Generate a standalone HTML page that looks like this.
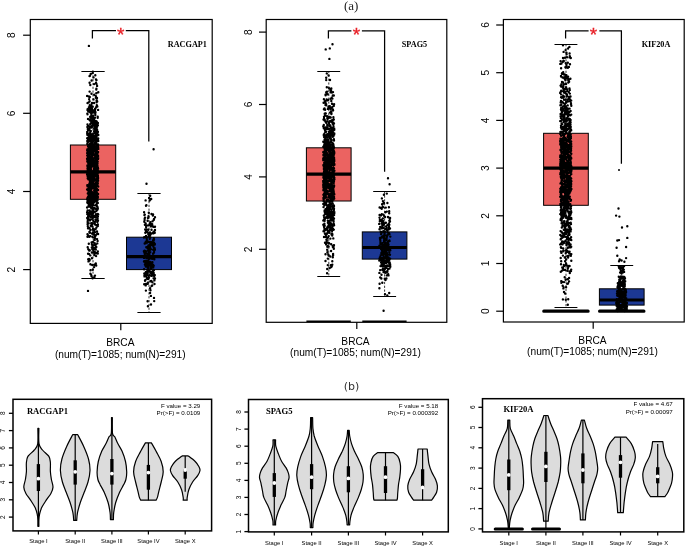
<!DOCTYPE html>
<html><head><meta charset="utf-8"><title>Figure</title>
<style>html,body{margin:0;padding:0;background:#fff}svg{display:block;will-change:transform}</style></head>
<body><svg width="685" height="547" viewBox="0 0 685 547">
<rect width="685" height="547" fill="#fff"/>
<path d="M93 71.5V145M93 199.3V278.2" stroke="#000" stroke-width="0.8" stroke-dasharray="2.2 1.6" fill="none"/>
<path d="M81.4 71.5H104.7M81.4 278.5H104.7" stroke="#000" stroke-width="1" fill="none"/>
<rect x="70.4" y="145" width="45.3" height="54.3" fill="#eb6361" stroke="#000" stroke-width="1"/>
<path d="M70.4 171.9H115.7" stroke="#000" stroke-width="3.2" fill="none"/>
<path d="M149 193.4V237.2M149 269.6V312.6" stroke="#000" stroke-width="0.8" stroke-dasharray="2.2 1.6" fill="none"/>
<path d="M137.4 193.5H160.6M137.4 312.5H160.6" stroke="#000" stroke-width="1" fill="none"/>
<rect x="126.5" y="237.2" width="45" height="32.4" fill="#1c3894" stroke="#000" stroke-width="1"/>
<path d="M126.5 256.7H171.5" stroke="#000" stroke-width="3.2" fill="none"/>
<path d="M88.9 45.9h0M88 290.9h0" stroke="#000" stroke-width="2.4" stroke-linecap="round" fill="none"/>
<path d="M97.6 182.5h0M95.3 150.8h0M89.9 181.3h0M97.2 185h0M87.6 210.5h0M93.1 180.8h0M91.6 125.9h0M89.8 154.4h0M87.8 129h0M95.8 161.6h0M87.2 155.6h0M93.3 164.3h0M97.6 240.9h0M88.7 136.5h0M89.3 151h0M93.9 151.3h0M92.8 242h0M94.3 244.2h0M96.2 208.8h0M89.1 191.3h0M90.6 159.3h0M90.5 173.8h0M87.6 150.4h0M97.1 198.5h0M95.9 159.2h0M95.1 155.6h0M87.2 199.3h0M96.6 100.8h0M95.4 148.9h0M92.3 122.4h0M95.4 197.6h0M92.2 202.6h0M89.6 186.2h0M88.3 176.4h0M89.7 145.8h0M87.5 161.7h0M90.9 190.5h0M95.5 211.6h0M94.9 193.5h0M96.6 121.4h0M95.1 205.4h0M90.1 161.8h0M93.3 154.3h0M92 233.6h0M95.9 169.9h0M93 117.8h0M90.3 255.4h0M94.3 185.3h0M97.9 176.3h0M89.5 205.8h0M97 151.3h0M87.3 174.5h0M90 232.6h0M89.7 137.7h0M95.4 144.2h0M97.7 132.8h0M95.5 112.3h0M90.8 156.9h0M97 167h0M90.8 225.7h0M89.8 146.5h0M97.3 197.3h0M94.2 190.7h0M94.9 224.3h0M94.6 212h0M98.1 193.9h0M92.4 118.6h0M96.1 256.1h0M94.9 232.3h0M96.7 162h0M92 112.2h0M95.2 148h0M93.5 250.6h0M91.5 276.2h0M89.5 157.1h0M94.1 202.4h0M88 218.3h0M97.3 131.5h0M88.7 126.3h0M87.4 165.4h0M88.3 161.8h0M97.5 154h0M91 105.9h0M88.7 146.3h0M87.4 150.5h0M87.6 149.3h0M94.9 236.9h0M94.2 118.9h0M94.9 132.4h0M95.4 150h0M88.1 253.7h0M93.7 198.2h0M91.2 137.1h0M96.3 247h0M96.3 179.6h0M97.1 129.7h0M87.8 226.2h0M96.8 105.3h0M97.3 149.1h0M97.7 178.2h0M88.3 158.5h0M89.4 145h0M88.4 167h0M87.5 124.5h0M96.6 199.3h0M96.2 189.1h0M94.2 128.8h0M96.3 170.8h0M94.2 208.4h0M90.3 132.7h0M88.2 111.3h0M88.2 190.4h0M95.6 229.1h0M89.4 177.5h0M90.7 178.1h0M91.8 184.3h0M87.3 113.8h0M90 214.5h0M90.3 119.7h0M95.1 224.5h0M91.2 204.5h0M90.7 145.8h0M97.9 125.2h0M92.7 136.4h0M96.6 157.6h0M94 166h0M87.4 165.6h0M91.7 148.1h0M92 179.2h0M95.8 160.5h0M91 148.2h0M95 171.9h0M93.1 140.3h0M89.5 148.5h0M96.4 88.7h0M88.1 158.5h0M96.3 189.7h0M89 187.4h0M87.1 172.5h0M89.4 133.7h0M95.6 185.9h0M98.1 156h0M87.1 95.9h0M92.6 278.2h0M92.6 218.5h0M96 161.8h0M89.2 155.4h0M92.6 162.1h0M91 189.8h0M96.4 144.8h0M90 160.3h0M97.7 193.6h0M90.3 157.2h0M89.5 194.9h0M94.9 176.1h0M92.7 181.3h0M88.3 174.5h0M94.2 192.1h0M88 130.2h0M95.9 220.3h0M94.9 174.7h0M95.9 132.5h0M94.1 136.5h0M91.1 110.2h0M91.6 242.4h0M91.5 186.6h0M97.1 186.1h0M88.1 146.1h0M97.1 126.7h0M87.4 126.9h0M89.4 231.9h0M90 143.7h0M97.2 233.7h0M92.7 164.7h0M91.3 122.5h0M97 178.1h0M89.7 164h0M92.3 138.9h0M93.1 166.1h0M95.6 175.6h0M95.5 108.4h0M94.3 128.5h0M91 184.1h0M90.8 219.4h0M88.8 134.1h0M96.5 182.9h0M94.5 166.5h0M95.4 142.7h0M89 162.7h0M92 145.5h0M95.8 235.2h0M93.6 234.5h0M88.5 146.5h0M92.3 211.8h0M97 214.5h0M89.8 232.8h0M89.2 119.5h0M90.5 141h0M95 110.9h0M96.5 210.8h0M88.8 171.9h0M88.8 219.2h0M89.9 140.2h0M90.8 106.1h0M92.9 208.8h0M88.9 107.3h0M90.8 131h0M89.2 179.3h0M97.8 253.6h0M95.3 113.7h0M88.2 175.9h0M97.9 196.9h0M88.2 155.4h0M91.4 155h0M98.1 109.9h0M96 214.2h0M95.3 124.9h0M92 110.3h0M89.3 111.8h0M94.2 179.4h0M88.3 202.8h0M89.4 129.8h0M91.4 167.2h0M87.5 166.8h0M91.6 113h0M96 182.9h0M94.1 267.1h0M92.7 188h0M94.2 248.7h0M92.3 138h0M88.7 158.8h0M93.9 197.3h0M91.6 172.3h0M95.4 137.5h0M97.3 168.7h0M91.9 117h0M93.5 174.5h0M95.5 128.9h0M91.8 110.2h0M89.7 105.3h0M95.2 199.8h0M97 135.5h0M95.8 249.6h0M94.9 216.8h0M96.5 253.2h0M94.7 127.7h0M94.3 223h0M92.2 172.5h0M90.6 179.9h0M94.1 173.1h0M88.2 196.4h0M91.8 162.3h0M95.9 97.8h0M95.1 170.1h0M94.2 150h0M89.9 130.5h0M91.8 180.1h0M92.2 224.1h0M94.1 194.9h0M91.7 127.5h0M94.7 240.1h0M97.5 196.7h0M89.2 130.2h0M94.4 139.1h0M95.8 171.6h0M91.5 138.6h0M92.6 165.1h0M98 220.8h0M87.5 236.7h0M93.2 198.4h0M88.9 133.7h0M95.9 195.4h0M97.6 209.3h0M92.9 203.9h0M88.2 235.4h0M93.5 176.8h0M93.2 220.8h0M95.1 156.9h0M92.8 269.7h0M94.3 158.4h0M96.4 198.5h0M92.9 252.4h0M91.7 141.9h0M97.7 183.4h0M90.4 264.3h0M94.8 208.2h0M91.5 159.9h0M95.6 190.9h0M88.5 139.6h0M98.1 141h0M91.1 144.4h0M87.7 158.4h0M90.2 116.7h0M91.6 144.6h0M87.2 153.3h0M91.9 258.3h0M91.8 134.8h0M94.9 117.7h0M91 184.2h0M90.1 191.4h0M89.6 91.6h0M95.4 244.8h0M97.6 152.5h0M92.9 71.6h0M89.6 210.4h0M96.1 143.4h0M91.5 93.8h0M89.5 176.9h0M88.5 148.7h0M95.8 134.6h0M96.2 209.5h0M94.2 175.6h0M92.4 159.8h0M93.4 137.8h0M89.6 173.4h0M97.9 180h0M91.1 214h0M94.3 186.8h0M96.3 135h0M96.2 167.7h0M92.3 207.3h0M90.4 206.8h0M93.2 124.7h0M88.5 145.5h0M96.4 146.2h0M91.1 152h0M96.6 102.2h0M90.1 154.2h0M91.3 174.7h0M89.9 150.3h0M91.9 252.5h0M89.2 129.2h0M87.1 158.5h0M95.2 201h0M90.2 117h0M89.8 97h0M90.5 230h0M92.5 199.5h0M91.9 159.9h0M94.2 164.3h0M94.5 188.4h0M91.2 212.3h0M96.6 84.1h0M96.7 129h0M87.7 221.4h0M96.4 227.6h0M97.2 101.4h0M95.9 131h0M88.7 96.5h0M96.4 138.4h0M94.2 208.1h0M87.3 161.1h0M88.5 261.4h0M97.8 202.9h0M94.4 174.4h0M89.9 150.3h0M88.2 202.1h0M88.7 177.1h0M89.7 153h0M95.8 156.3h0M91 145.5h0M88.8 163.3h0M97.2 185.4h0M96 139.3h0M89 169.9h0M97.1 206.2h0M93.9 197.9h0M95.9 172h0M94.6 176.5h0M97.1 165.4h0M95.9 172h0M96.5 164.7h0M89.3 177.5h0M94.9 224.1h0M93 154.5h0M95.4 128.3h0M92 153.9h0M97 179.8h0M93.3 153.5h0M90.1 211.9h0M89.7 250.5h0M88.7 169.5h0M92.6 210.5h0M87.8 141.3h0M92.3 216.8h0M88.7 215h0M92.6 106.6h0M92.7 187.8h0M93.1 228.7h0M96.8 203.6h0M87.2 150.4h0M96.5 151.4h0M92.3 164.6h0M93.4 110.5h0M94.6 142.7h0M96.5 172.8h0M91.3 147.2h0M91.8 103.4h0M97.9 131.7h0M87.9 129.5h0M94.2 216.8h0M94.2 178.1h0M87.4 141.7h0M93.9 184.2h0M94.7 127.7h0M97.5 147.2h0M90.8 134.3h0M98.1 180.7h0M92.8 120.6h0M92.5 180.9h0M97.2 168.2h0M87.5 186.2h0M95.1 135.7h0M94.1 131.3h0M90.9 171.7h0M96.8 220.3h0M91.2 164.2h0M92.4 157.1h0M93 125.2h0M95.7 139.5h0M89.5 170.9h0M92 136.6h0M91.8 149.6h0M93.3 163.4h0M96.4 169.7h0M90.4 182h0M96.4 143.5h0M91.6 215.6h0M92.7 198h0M90.1 171.7h0M92.8 232.6h0M98 190h0M94.3 255.1h0M96 200.2h0M90.8 148.4h0M90.7 148.5h0M90.5 174.2h0M93.7 181.6h0M94.2 230.6h0M95.9 96.2h0M87.5 150.6h0M95.2 126.7h0M97 208.5h0M93.2 179.6h0M87.7 247.3h0M90.5 139.6h0M87.2 133.2h0M89.2 250.5h0M97.4 174.1h0M93.9 145.8h0M94.5 244.9h0M95.9 247.5h0M97.3 216.1h0M94 198h0M94 230h0M94.1 170.6h0M94.9 161.6h0M93.8 145.7h0M94.7 142.9h0M89.5 109.7h0M94.6 123.7h0M92.2 226.3h0M95.6 192.9h0M88.2 215.9h0M89.1 216.5h0M87.5 175.3h0M95.8 171.7h0M97.3 151.6h0M94.4 237.7h0M91.2 223.2h0M96.3 172.9h0M95.9 180.2h0M93.4 184.8h0M90 174.6h0M90.5 203.4h0M91.8 142.9h0M90.7 157.3h0M91.9 175.6h0M94.3 199.8h0M97.6 179.2h0M87.7 212.6h0M93.5 170.4h0M87.5 234.2h0M88.4 163.7h0M96.2 165.8h0M93.5 229h0M97.4 182.3h0M92.1 184.9h0M87.3 152.9h0M91.4 146.6h0M93.7 173.4h0M97.6 207.2h0M98.1 177.9h0M92.4 174.7h0M91.7 141.5h0M88.2 159.8h0M94.3 201.9h0M89.5 228h0M88.8 187.4h0M87.3 202.6h0M87.2 218h0M94.8 176.7h0M88.5 192.3h0M97.9 167.6h0M88.1 150.3h0M96.8 189h0M90 75.7h0M87.3 185.3h0M95.2 126.3h0M89.8 166.9h0M95.3 125.7h0M90.5 270.3h0M87.7 203.1h0M95.8 161.7h0M95.1 147h0M95.3 75.2h0M95.3 158.6h0M88 118.9h0M94.1 140.2h0M95 132.7h0M92.3 150.8h0M97.5 178.4h0M89.9 150.9h0M97.9 216.6h0M95.1 123h0M87.2 214.1h0M87.3 161.6h0M94.1 84.1h0M96.3 181.2h0M88 171.1h0M90.6 123.8h0M95.3 170.9h0M89 205.4h0M96.7 161.3h0M92.5 147.8h0M87.8 142.5h0M91.2 203.9h0M93.5 99.4h0M92 102.9h0M94.7 171.2h0M88.7 160.8h0M96 189.7h0M91.2 113.4h0M94.3 201.1h0M94.2 144h0M91.8 191.8h0M91.4 200.7h0M95.9 142.2h0M97.7 116.7h0M95.9 172.4h0M93.4 200h0M90.4 138.3h0M87.8 174h0M98 159.1h0M95 108.9h0M96.4 125.1h0M90.8 193.5h0M93.5 77.4h0M98 171.8h0M96.4 139.4h0M93.8 198.8h0M90.6 173.8h0M91.9 244.4h0M97 98h0M91.3 115.4h0M94.8 222.3h0M93.8 234.3h0M97.1 239.1h0M96.1 123.3h0M90.3 191h0M87.1 174.5h0M90 184.9h0M91.8 177h0M93.7 217h0M96.2 170.9h0M97 231.5h0M87.6 174.9h0M96.4 159.2h0M96.2 152.6h0M96.8 181.5h0M93.5 209.4h0M90.2 165.3h0M96.6 192h0M96.1 107.1h0M94.8 140.2h0M97.3 176.7h0M91 191.5h0M88.1 201h0M93.3 210.8h0M96 186.6h0M89.3 159.7h0M95.5 150.6h0M97.5 148.4h0M90.3 85h0M93.9 201.1h0M94.7 171.4h0M92.3 249.3h0M89.4 193.5h0M90 164.9h0M95.5 165.6h0M96 155.1h0M92.2 181.8h0M88.1 156.8h0M96.1 169.8h0M95.7 140h0M89.7 250.3h0M93.6 208.6h0M97.1 172h0M97 214.7h0M92.9 215.2h0M92.4 145.9h0M93.7 198.9h0M89.2 145.7h0M89.3 141.1h0M89.1 159.3h0M95 150.9h0M91.2 176.3h0M93.4 230.3h0M91.6 173.2h0M92.9 153.1h0M88.8 193.9h0M87.6 176.1h0M98.3 140.9h0M91.3 208.3h0M88.3 145.4h0M94.2 94.8h0M95.9 194.9h0M88.8 165.9h0M93.8 178.2h0M91 108.2h0M92.9 158.8h0M87.3 134.8h0M87.5 200.5h0M98.2 172.6h0M96.8 172.4h0M92.5 245.5h0M93.5 112.3h0M90 134.7h0M95.8 244.4h0M91.9 141.1h0M97.7 177.4h0M95.7 153.4h0M96.3 156.8h0M97.9 234h0M89.9 180.7h0M87.5 110.1h0M89.4 195.8h0M89.1 214.3h0M88 228.3h0M87.7 222.5h0M93.3 158.1h0M96.9 101.8h0M92.2 154.2h0M97.7 161.8h0M96 79.4h0M87.8 193.5h0M93.8 199.9h0M91.6 150.1h0M88.4 149.2h0M97.8 214h0M90 220.4h0M93.4 159.9h0M94.3 161.7h0M97.8 226.1h0M94.6 180.3h0M91.5 194.4h0M92.1 152.9h0M88.9 176.8h0M97.9 175.5h0M98.2 186.6h0M89.6 128.3h0M87.5 114.3h0M90 187.1h0M91 136.9h0M97.2 203.3h0M97.2 169h0M96.5 140.9h0M87.6 109.2h0M95.9 187.8h0M95 175h0M94.3 163.8h0M98.1 234h0M87.7 171.3h0M88.7 199.9h0M95.6 156.6h0M97.6 218.7h0M94.6 253.8h0M90.4 170.4h0M93.7 161.2h0M95.6 194.7h0M88.3 135.1h0M90.7 183.3h0M90 197h0M88.5 152.2h0M92.5 236.9h0M89 200h0M89.8 172.8h0M88.7 136.8h0M94.7 178.7h0M87.2 159.2h0M95.1 199.1h0M89.3 159.4h0M87.5 103.1h0M97.5 200.4h0M90.7 74h0M97.6 198.6h0M96.8 171.2h0M97.1 164.8h0M88.7 129.5h0M92.1 223.2h0M89 258.9h0M97.5 146.8h0M96.5 139h0M94.1 146.1h0M92.2 163.5h0M90.9 161.4h0M96.3 133.5h0M92.4 156.7h0M94.1 103h0M88.7 223.2h0M89.6 187.5h0M87.7 138.3h0M95.1 187.4h0M93.3 133.7h0M89.6 82.7h0M96.9 172.2h0M90.1 182.5h0M91.7 192.6h0M88.8 206.6h0M90.1 198.1h0M96.5 145.5h0M90.8 170.4h0M89 169.2h0M92.6 179.1h0M90.7 134.1h0M97.2 151.5h0M88.4 177.8h0M98.1 144.4h0M87.7 178.2h0M97.1 219.7h0M94.6 111.7h0M89.5 152.7h0M92.4 211.6h0M90.3 127.3h0M90 157.7h0M89.4 236.7h0M91.2 105.3h0M98.2 158.1h0M98.3 135h0M97.5 163.8h0M88.2 178.1h0M90.3 236.1h0M97.1 131.7h0M87.7 170.7h0M95.2 183.8h0M90.4 157.4h0M98.1 168.7h0M87.3 144h0M96.1 187.3h0M90.9 173.5h0M89.5 260.5h0M87.1 189.5h0M96.4 144h0M93 116.6h0M89.2 187h0M92 177h0M97.3 106.4h0M89.5 185.4h0M93.5 141.5h0M88.6 102.4h0M89.1 170.3h0M95.7 121.1h0M95.1 201.4h0M89.3 163.3h0M88 175.1h0M88.1 167.2h0M93.9 125.2h0M92.7 73h0M90.2 199.5h0M89.4 195.8h0M94 151.3h0M95 215.6h0M96.2 151.4h0M93.6 148.3h0M89.4 183.4h0M87.8 149.9h0M95.3 236.1h0M91.7 140.5h0M95.2 235.9h0M87.7 200.8h0M96.2 195h0M90.9 188.6h0M96.5 136.4h0M96.8 168.6h0M92.6 188.4h0M87.3 149.4h0M97.3 106.5h0M92.4 171.7h0M96.9 156.8h0M90.1 120.6h0M89.2 160.9h0M96.4 225.1h0M91.6 80.5h0M89.2 254.1h0M91.3 173.6h0M93.8 154.7h0M87.2 132h0M92.9 144.2h0M92.1 183.2h0M92.9 215.6h0M88.5 167.7h0M95.1 129.1h0M96.2 217.1h0M96.8 214.5h0M90.7 173h0M95 252.2h0M91.4 182.7h0M95.5 190h0M87.8 153.3h0M96.9 201h0M97.8 208.5h0M92.6 188.3h0M92.8 174h0M93 199.5h0M93.1 171.4h0M87.3 140.9h0M97.9 122.9h0M89.6 101.3h0M89.1 204.4h0M88.2 189.3h0M91.1 274.8h0M96.3 93.3h0M87.4 202h0M88.2 173.3h0M94.9 150.3h0M89.3 228.2h0M87.3 152.7h0M93.8 173h0M93.6 247.6h0M93 159.9h0M95 122.5h0M88.3 249.3h0M96.8 138.5h0M95.1 163.3h0M87.6 152.3h0M88.5 153.7h0M92.6 117.9h0M92.7 181.2h0M90.2 135.8h0M88.5 188.9h0M91.6 141.8h0M88.6 205.7h0M93.7 176.4h0M96.7 100.3h0M88.7 153.5h0M93.5 178.5h0M95.5 219.4h0M88.9 204.7h0M96.4 163.9h0M97.6 133h0M91.5 154.3h0M91.8 150.2h0M96.5 173.7h0M93 116h0M91.5 188.1h0M97.6 194.7h0M95.8 135.2h0M90.9 169.3h0M89.8 183.5h0M90.9 195.8h0M92 182.6h0M98.1 146.1h0M96.1 157.3h0M97.3 222h0M96.2 154.3h0M96.6 164.5h0M87.7 213.4h0M92.9 139.9h0M97.8 183.6h0M97.6 185.8h0M89.9 139h0M91.8 117.2h0M94.2 200.5h0M91.2 153.8h0M93 208.2h0M89.5 76.1h0M92 192.4h0M92.8 122.5h0M87.3 198.8h0M88.7 138.3h0M96.5 80.1h0M94.4 277.2h0M97.6 189.9h0M94.2 151.2h0M96.2 175.8h0M97 199.6h0M96 82.8h0M87.5 168.7h0M94.3 240h0M90.1 136.6h0M94.7 243.2h0M90.2 124.3h0M93.2 195.9h0M97.5 165.9h0M94.1 119.7h0M89.9 167.1h0M92.9 229.6h0M92 242.2h0M97.7 123h0M90.3 141.3h0M90.5 205.7h0M94.4 136.3h0M88.4 151.4h0M93.8 145.1h0M96.2 265.5h0M92.9 184.5h0M90.1 134.7h0M92.3 141.6h0M93.1 135.4h0M90.4 273.7h0M88.5 164.9h0M88.6 151.6h0M90.4 211.4h0M91.7 185.6h0M90.3 170.5h0M89.8 135.2h0M88.1 190.3h0M93.2 124.4h0M96.5 204.6h0M93.9 160.9h0M93.5 193.8h0M94.4 165.4h0M89.4 200.6h0M95.1 238.1h0M92.3 126.7h0M93.2 159.4h0M94 195.1h0M92.4 163.6h0M90.6 130.9h0M89.8 212.4h0M89.6 176.5h0M92.8 149.6h0M91.4 150.2h0M93.7 185.8h0M88.2 259.2h0M91 120.5h0M96.8 158.3h0M89.8 171.4h0M93.3 183.5h0M92.6 161h0M90.3 189.6h0M98.2 214.4h0M90.4 202.6h0M95.7 196.7h0M88.9 197.3h0M87.8 219.9h0M96.9 145.6h0M92 226.2h0M87.8 144.6h0M91.4 214h0M92 157.3h0M95.3 115h0M88.3 163.5h0M89.6 202.2h0M97.8 169.9h0M95.4 165.8h0M88.8 243.7h0M90.9 197.1h0M91 165.2h0M94.7 191.4h0M94 168.6h0M96.6 141.5h0M96.3 140.2h0M92.9 134.4h0M95.4 147.6h0M95.4 183.9h0M95.6 172.7h0M92.4 183.2h0M95.9 184.9h0M95 179.4h0M97.3 243.4h0M88.5 185.7h0M96.9 172.9h0M87.1 212.3h0M95.7 172.9h0M93.7 150.6h0M92.7 178.8h0M97.1 85.9h0M93.5 180.5h0M91.8 247.5h0M95.9 131.4h0M95 275.6h0M93.9 166.6h0M91.4 150.4h0M92.2 184.5h0M92.2 149.1h0M94.5 264.8h0M90.4 136.7h0M91.5 156.5h0M93.3 171h0M91.4 196.3h0M90.7 145.5h0M95.9 192h0M96.6 162.7h0M92.7 193.1h0M92.3 265h0M89.2 173.2h0M90.5 163.6h0M88.7 140.7h0M93.5 208.2h0M93.6 173.3h0M88.1 146.4h0M97.4 165.9h0M90.7 120.5h0M96.3 89.5h0M96.5 209.6h0M97.8 251.5h0M89.4 136.5h0M91.9 108.6h0M97.3 133.7h0M87.2 138.2h0M87.6 197.6h0M93.4 201.5h0M92.7 135.2h0M97.4 209.7h0M95.8 247h0M93.1 213.3h0M98.3 92.3h0M92.9 200.4h0M92.9 202.1h0M94.8 162.4h0M91.5 203h0M91.1 117.7h0M93.8 175.2h0M91 216.9h0M97.7 117.7h0M94.7 196.1h0M93 162.8h0M88.2 172.5h0M91.3 185h0M91.6 158.5h0M93.4 200.6h0M93.5 248.3h0M95.8 263.4h0M97.9 224.4h0M92.6 203.4h0M92 172.9h0M94.1 169.7h0M98.3 148.9h0M90.9 167h0M93 204.8h0M96.2 201.3h0M89.7 259.7h0M90.7 178.9h0M98.1 151.9h0M96.4 150h0M92.8 177h0M88.3 179.2h0M97.1 133.2h0M94.8 171.3h0M96.3 141.4h0M98.2 147.8h0M97 163.1h0M91.8 117.8h0M88.9 195.7h0M90.3 186.8h0M92.8 205.4h0M92.8 205h0M89.2 107.5h0M89.1 99.1h0M94.2 171h0M93.9 148.4h0M91.1 123.3h0M98.2 138.5h0M94.2 122h0M87.6 224.2h0M91.7 198.4h0M95.9 153.2h0M90.5 112.5h0M94.8 167.6h0M87.1 207.5h0M90.5 186.6h0M96.5 199.3h0" stroke="#000" stroke-width="2.4" stroke-linecap="round" fill="none"/>
<path d="M153.6 149.2h0M146.5 183.7h0" stroke="#000" stroke-width="2.4" stroke-linecap="round" fill="none"/>
<path d="M154.3 276h0M145.8 284.8h0M152.7 274.1h0M153.2 246.1h0M152.2 224.2h0M147.6 273.6h0M146 263.4h0M153.1 273.6h0M147.5 278.7h0M148 218.1h0M150.1 258.4h0M148 267h0M153.2 249.7h0M146.6 229.5h0M144.4 215.1h0M150.2 246.9h0M150.9 249.2h0M153.1 240.2h0M151.8 225.4h0M154 239.3h0M154.5 284h0M149.4 254.1h0M149.5 265h0M146 205.8h0M147.3 253.8h0M150.4 272.7h0M144.8 214.6h0M151.6 265.7h0M145.7 243.2h0M148.9 258.9h0M154.8 244h0M144.9 224.8h0M144.3 273.8h0M148.8 271.4h0M146 230.9h0M152 263.2h0M143.9 251.2h0M153.3 226.8h0M153.5 275.6h0M152.7 226.2h0M148.7 263.6h0M147.1 269.6h0M151.3 268.9h0M149.7 238.7h0M148.6 241.7h0M147.7 272.4h0M148.8 212.8h0M151.4 281h0M153.2 267.4h0M154 218.9h0M145.7 223.4h0M147.2 264h0M148.9 236.3h0M150.2 262.8h0M147.8 283.8h0M146.1 227h0M144.9 253.2h0M147.5 232.2h0M149.1 233.1h0M154.8 275.1h0M154.1 251.9h0M153.6 273.1h0M154.8 244.6h0M154.7 232.5h0M150.8 226.4h0M153 264.8h0M144.6 220.1h0M151.5 229.7h0M150.7 233.1h0M147.2 274.1h0M150.3 237.5h0M154.6 243.6h0M149.3 251.7h0M151.2 244.9h0M147.3 275.4h0M147.7 257.3h0M153.8 238.1h0M144.2 261.2h0M146 236h0M151.5 214h0M148.9 248.1h0M144.9 264.6h0M151.3 243h0M148.1 260.5h0M150.4 266.9h0M148.6 262.8h0M149.7 200.6h0M150.2 235h0M148.3 234.2h0M145.2 229.5h0M145.9 290.6h0M153.9 242.6h0M150 234h0M145.2 261.4h0M153.6 278.2h0M146.7 237.8h0M145 261.6h0M149.8 223.5h0M146.7 265.5h0M149.4 253.1h0M150.1 224.8h0M146.4 225.5h0M150.3 223h0M145.2 261h0M149.6 275.2h0M150.5 268.5h0M144.8 256.9h0M148.5 216.3h0M144.7 243.5h0M149.1 197.9h0M153.6 231.7h0M150.1 232.4h0M151.9 274.1h0M152.4 262.3h0M145.2 253.8h0M155 278.5h0M152 272.9h0M145 280.8h0M153.2 265.7h0M148.3 229.8h0M145.8 241.6h0M154.7 248.1h0M150.2 242h0M152.6 272.9h0M145.4 263.2h0M152.6 266.6h0M144.5 276.4h0M146.6 265.5h0M148.1 275.6h0M144.1 257.9h0M150.6 233.8h0M146.3 247.3h0M147.3 255.6h0M151.8 242.3h0M148.7 261.5h0M153.9 274.7h0M150.9 295.9h0M153.7 219.9h0M150.2 248h0M154.2 301.1h0M153.7 247.5h0M145.8 266.5h0M152.2 258.8h0M147.7 250.5h0M152.5 271.3h0M151.5 286.1h0M153.1 270.9h0M145.3 232.7h0M148.1 275.6h0M152.2 285.5h0M154.5 257.3h0M151.2 199h0M144.4 275.7h0M150.7 223.6h0M145 251.6h0M150 244.2h0M152.9 215.6h0M145.2 275.8h0M154.3 259.3h0M151.5 263.8h0M146.8 240.4h0M146.1 253.4h0M148.9 249.6h0M153.3 233.4h0M150.4 262.3h0M145.2 252h0M144.1 269.2h0M145.1 217.6h0M152.9 233h0M146.4 205.3h0M150.1 288.3h0M147.1 272.2h0M151.6 258.6h0M148.2 225.4h0M145.5 265.8h0M153.7 275.8h0M149.8 200.2h0M151.6 257.5h0M153 253.8h0M154.5 275h0M145.6 200.4h0M147.7 242h0M145.6 263h0M149.5 262h0M153.7 257.4h0M152.9 243.1h0M144.3 252.5h0M145.9 271.9h0M153.1 214.4h0M151.5 275.9h0M148.3 217.7h0M149.2 233.8h0M145.7 285.4h0M153.4 226.6h0M148.3 246.2h0M153.7 273h0M150.2 195.7h0M144.7 218.5h0M147.6 301.2h0M146.3 225.6h0M153.9 270.3h0M150.5 290.2h0M144.4 237.3h0M145.8 284h0M147.9 264.7h0M149.1 254.9h0M150.4 265h0M148.2 279.1h0M147.9 306.3h0M144 261.5h0M150.4 222.1h0M147.6 220.8h0M144.1 212.3h0M149 245.1h0M154.9 249.8h0M144.4 273.4h0M145.5 274h0M151.4 275.1h0M147 278h0M147 257.9h0M149.5 247.3h0M146.8 271.6h0M150.3 233.5h0M149.8 250h0M154.6 232.9h0M155 226.7h0M144.3 221.8h0M150.2 265.4h0M152.5 271.6h0M153.7 256h0M152.6 221.3h0M151 304.5h0M151 233.8h0M148 268.5h0M147.1 237.3h0M152.8 245.3h0M153.7 265.7h0M154.4 275.5h0M151.5 265.3h0M147.3 242.6h0M152.4 282.3h0M152.2 256.7h0M149.6 270.7h0M151 272.2h0M147.8 282.6h0M150.1 292.9h0M148.4 245.4h0M144.6 250.6h0M147.7 267h0M147.5 262.8h0M155 230h0M149.3 255h0M148 247.6h0M146.6 260.6h0M146.5 238.1h0M147.8 264.8h0M145.4 279.9h0M144 237.5h0M153.7 240.3h0M149 277.6h0M148.9 252.2h0M150.3 252.1h0M147.3 247.7h0M145.8 251.5h0M144.6 257.9h0M147.3 266.8h0M147.4 270h0M152 267.2h0M150.1 261.9h0M154.4 280.4h0M147.7 255.6h0M154.2 243.8h0M150.4 222.5h0M144.8 254.3h0M145.9 276.2h0M150.4 281.3h0M155 217.3h0M147.9 270.1h0M152.6 258h0M148.7 235h0M153.6 253.3h0M144.7 252.4h0M149.3 249h0M154 297.9h0M147 261.8h0M146.8 239.2h0M144.2 284.3h0" stroke="#000" stroke-width="2.4" stroke-linecap="round" fill="none"/>
<rect x="30.3" y="19.5" width="181.9" height="303.9" fill="none" stroke="#000" stroke-width="1.2"/>
<path d="M23.1 35.2H30.3" stroke="#000" stroke-width="1.2"/>
<text transform="translate(14.9 35.2) rotate(-90)" text-anchor="middle" font-family='"Liberation Sans", Arial, sans-serif' font-size="10.2">8</text>
<path d="M23.1 113.3H30.3" stroke="#000" stroke-width="1.2"/>
<text transform="translate(14.9 113.3) rotate(-90)" text-anchor="middle" font-family='"Liberation Sans", Arial, sans-serif' font-size="10.2">6</text>
<path d="M23.1 191.5H30.3" stroke="#000" stroke-width="1.2"/>
<text transform="translate(14.9 191.5) rotate(-90)" text-anchor="middle" font-family='"Liberation Sans", Arial, sans-serif' font-size="10.2">4</text>
<path d="M23.1 269.6H30.3" stroke="#000" stroke-width="1.2"/>
<text transform="translate(14.9 269.6) rotate(-90)" text-anchor="middle" font-family='"Liberation Sans", Arial, sans-serif' font-size="10.2">2</text>
<path d="M120.8 323.4V330.2" stroke="#000" stroke-width="1.2"/>
<text x="120.3" y="346.3" text-anchor="middle" font-family='"Liberation Sans", Arial, sans-serif' font-size="10.2">BRCA</text>
<text x="120.3" y="357.5" text-anchor="middle" font-family='"Liberation Sans", Arial, sans-serif' font-size="10.2">(num(T)=1085; num(N)=291)</text>
<path d="M92.4 38.6V30.7H116M125.8 30.7H148.8V141.4" stroke="#000" stroke-width="1.25" fill="none"/>
<text x="120.6" y="41.1" text-anchor="middle" font-family='"Liberation Sans", Arial, sans-serif' font-size="19" fill="#e8232a" stroke="#e8232a" stroke-width="0.35">*</text>
<text x="167.8" y="47.4" font-family='"Liberation Serif", "Times New Roman", serif' font-size="8.2" font-weight="bold">RACGAP1</text>
<path d="M328.8 71V147.8M328.8 201V277" stroke="#000" stroke-width="0.8" stroke-dasharray="2.2 1.6" fill="none"/>
<path d="M317.3 71.5H340.2M317.3 276.5H340.2" stroke="#000" stroke-width="1" fill="none"/>
<rect x="306.4" y="147.8" width="44.7" height="53.2" fill="#eb6361" stroke="#000" stroke-width="1"/>
<path d="M306.4 174.2H351.1" stroke="#000" stroke-width="3.2" fill="none"/>
<path d="M384.6 191.7V231.9M384.6 259.1V296.4" stroke="#000" stroke-width="0.8" stroke-dasharray="2.2 1.6" fill="none"/>
<path d="M373.2 191.5H396.1M373.2 296.5H396.1" stroke="#000" stroke-width="1" fill="none"/>
<rect x="362.3" y="231.9" width="44.6" height="27.2" fill="#1c3894" stroke="#000" stroke-width="1"/>
<path d="M362.3 247.5H406.9" stroke="#000" stroke-width="3.2" fill="none"/>
<path d="M332.5 44.3h0M329.8 48.4h0M325.7 49.4h0M329.4 58.9h0" stroke="#000" stroke-width="2.4" stroke-linecap="round" fill="none"/>
<path d="M332 230.9h0M332.4 157.5h0M330.3 146.7h0M331.5 181h0M323.6 199.6h0M324.3 194.4h0M334.1 157.9h0M332.2 235.6h0M323.6 220.3h0M323.7 188.7h0M325.9 194h0M333.6 183.4h0M327.1 273.2h0M330.7 186.1h0M333.6 182.7h0M330.4 144.1h0M333.5 247.6h0M326.1 184.8h0M324.9 155.5h0M323.4 154.9h0M331.7 128.4h0M324.4 133.7h0M334.1 212.7h0M331.2 149.4h0M325.3 185.9h0M332.2 203.4h0M325 115.7h0M328.9 196.9h0M324.4 205.4h0M332 188.6h0M333.2 205.3h0M333.5 135.4h0M323.2 159h0M332.7 120.6h0M329.4 157.8h0M332.4 196.4h0M328.8 133.9h0M330.1 197.9h0M329.9 190.7h0M332.2 179.6h0M324.1 171.8h0M323.8 128.3h0M329.3 196.1h0M326.5 160h0M327.6 174.3h0M323.3 220.6h0M331.5 214.5h0M323.5 181.5h0M332.5 158.1h0M332.3 161.2h0M328.3 155.2h0M324.6 171.5h0M330.5 190.1h0M325.5 157.2h0M328 211h0M324.4 223.8h0M334.1 185.8h0M329.3 227.1h0M327.1 192.7h0M324.3 201.4h0M331.4 194.2h0M332.7 175h0M332.7 203.4h0M324.3 189.2h0M327.3 237.7h0M326.6 167.8h0M331.7 206.5h0M324.9 158h0M330 203.5h0M334.2 164.1h0M330.7 265.3h0M323.3 186.9h0M324 169.7h0M324.5 169.4h0M331 229.7h0M329.9 164.6h0M329 167.7h0M328.3 210h0M327.8 145.2h0M330 175.1h0M330.5 172.6h0M333.5 190.2h0M331.4 152.6h0M332.1 169.6h0M333.4 130.4h0M332.6 156.2h0M331.2 196.6h0M323.5 181.7h0M330.8 138.6h0M332.7 187.1h0M328 158.8h0M333 153.6h0M325.2 180.1h0M332.3 261.2h0M328.1 168.3h0M331.1 165.2h0M326 168.2h0M326.6 202h0M327.1 127.6h0M326.8 178.4h0M324.3 196.8h0M328.2 200.4h0M334.2 159.7h0M330.5 214.5h0M333.6 211.1h0M331.7 97.7h0M332.6 123.7h0M334.3 133.4h0M331.6 121.7h0M326.3 150.8h0M326 237h0M327.8 128.1h0M323.4 126.4h0M325.8 154.7h0M333.1 247.3h0M333.5 126.3h0M326.9 121.6h0M331.8 191.9h0M331.9 168.5h0M333.2 143.9h0M332.1 176.5h0M329.2 131.7h0M324.4 170.2h0M332.4 147.1h0M326.7 170.1h0M330.2 229.3h0M327.3 211h0M329.2 162.7h0M334 123.6h0M325 130.2h0M329.1 108.3h0M330.5 152.3h0M329.2 195.9h0M333.7 172.6h0M327.8 246h0M333.4 180.4h0M330.9 138.9h0M333.1 255.2h0M324.2 165.8h0M325.6 142h0M326.4 122.9h0M333.4 208.4h0M323.4 198h0M326.1 244.4h0M331.2 211.9h0M334.3 153h0M325.5 94.8h0M328.1 216.8h0M330.9 121h0M330.9 157.1h0M331.6 192.1h0M331.1 90h0M327.2 269h0M326.1 175.8h0M323.5 165h0M330.6 92.4h0M325.5 105h0M326.8 87.3h0M334 168.2h0M330.4 136h0M329.8 121.5h0M330.5 153.8h0M329.9 159.6h0M331 180.3h0M326.6 188.8h0M323.9 220h0M323.9 99.2h0M323.4 190.2h0M327.4 252.3h0M324.8 163.2h0M324.5 174.6h0M328.7 166.6h0M334.1 104.3h0M330.9 177.3h0M326.3 183.4h0M331.8 201.6h0M325.2 174.1h0M324.3 190h0M326.6 165.5h0M327.8 158.3h0M330.9 205.9h0M328.2 99.9h0M331.4 140.4h0M324.3 142.2h0M333.6 146.1h0M327 142.1h0M332.5 147.6h0M323.5 119.6h0M332.5 135h0M325.7 122h0M332.8 192.4h0M332.2 173.4h0M330.7 201h0M326.3 136.9h0M323.3 141.7h0M325.3 191h0M333.3 151h0M326.8 73.4h0M330.6 126.2h0M329.8 215.8h0M330.6 176.8h0M325.2 149.1h0M324.8 174.6h0M324.3 158.6h0M334.2 128.4h0M327.5 160.8h0M330.5 215.1h0M329.6 146.1h0M325.7 177h0M323.9 168.9h0M323.4 194.8h0M332.7 225.9h0M324.7 220.7h0M334 186.7h0M327.3 214h0M331.3 129.6h0M324.7 217.5h0M332 200.9h0M326 153h0M327.8 265.1h0M329.1 122.2h0M324.4 202.5h0M326 148.1h0M332.1 191.6h0M326.4 161.6h0M327.5 169.3h0M331.8 173.3h0M325.7 242.8h0M325.4 229.2h0M325.7 174.9h0M327.5 119.6h0M327.3 194.1h0M330.4 153h0M328.5 167.1h0M332.9 154.9h0M323.8 135.5h0M330.6 230.4h0M332.6 162.8h0M325.8 180.1h0M323.5 185.2h0M328.1 205.8h0M324.5 203.2h0M328.4 212.5h0M331.2 215.1h0M326.2 77.7h0M324.5 108.5h0M328.6 172.9h0M325.1 145h0M325.8 210.5h0M328.1 242.7h0M324.5 167.9h0M324 118.4h0M327.2 174.9h0M328.5 211.4h0M333.7 182.5h0M329.4 211.3h0M324 226.4h0M325.7 182.1h0M331.5 188.5h0M329.5 204.2h0M332.9 207h0M334 208.7h0M332.8 164.3h0M324.4 120.2h0M333.8 181.3h0M329 88.1h0M325.9 234.9h0M325.1 162.8h0M332.9 217.3h0M325.6 179.4h0M324.1 169.4h0M326.2 152h0M333.5 130.2h0M328.4 194.4h0M331.4 220.6h0M324 180.5h0M328.3 162.1h0M326.8 199.9h0M325.5 139.2h0M330.6 109.1h0M327.2 227.5h0M324.5 159.5h0M334.2 134.5h0M328.6 246.5h0M325.2 165.4h0M323.3 181.9h0M330.5 227.5h0M329 123.1h0M323.5 165h0M328.5 191.5h0M331.5 156.4h0M329.2 148.8h0M325.8 144h0M328.8 151.2h0M330 157.7h0M330.5 218.1h0M324.8 189.3h0M332.2 168.4h0M333 92.1h0M331.5 187.7h0M332.8 213.5h0M327.3 242.6h0M333.3 163.8h0M325.2 172h0M325.7 195.5h0M329.9 189.2h0M333.3 207.1h0M324.1 201.8h0M325.6 177h0M323.6 197.8h0M328.1 147.4h0M324.8 178.7h0M325.3 168.3h0M331.6 157.8h0M329.7 124.9h0M333.7 150.4h0M327.7 164.6h0M330.8 179.5h0M323.3 204h0M333.8 186.3h0M325.8 147.3h0M328.5 164.6h0M328.9 188.1h0M333.8 224h0M328.7 231.7h0M334.3 161h0M330.2 134.1h0M325.6 159h0M332.5 225.6h0M325.5 181.4h0M334.4 164.8h0M328.3 208.3h0M325.7 160.1h0M334 180.9h0M326.8 205.1h0M327.8 220.6h0M327 142.4h0M330.7 159.7h0M323.5 207.1h0M327.4 211.9h0M325 139.4h0M332.5 150.6h0M323.2 184.9h0M330 112.6h0M326.1 184.3h0M328.3 213.5h0M329.5 131.7h0M331.2 180.5h0M324.7 160.1h0M325.9 171.8h0M324.6 211.4h0M334 218.5h0M324.9 180.7h0M324.7 119.8h0M329 211.5h0M329.7 121.5h0M333.1 164.9h0M323.8 215.6h0M325.8 163.1h0M325.1 151.7h0M329.8 207.5h0M328.3 254.4h0M327.8 159.7h0M333.1 215.5h0M330.6 156.5h0M332.8 246h0M333.9 178.7h0M326.2 204.1h0M333.8 229.6h0M327.8 182.5h0M323.8 166.8h0M333.4 194.5h0M324.4 218.2h0M323.4 165.2h0M326.4 239.8h0M326.4 152.9h0M334 154.6h0M332.9 109.5h0M327.9 139.7h0M329.1 159.8h0M332.7 163.3h0M332.2 172.2h0M330.5 223.7h0M328.9 117.7h0M324.5 153.3h0M325.9 184.2h0M330.6 216.8h0M329.8 116.9h0M332.2 153.1h0M333.3 218.3h0M334 147.7h0M325.4 101.2h0M324.1 174.1h0M333.3 158.1h0M329.6 189.1h0M325.2 197.2h0M331 132.5h0M326.1 168.8h0M325.8 178h0M327.3 143.1h0M329.1 184.9h0M330.8 145.6h0M324 141.8h0M331.5 211.9h0M330.2 214h0M328.5 176.1h0M330.7 141.7h0M332.2 162.8h0M323.3 126.2h0M328.5 225.5h0M330.8 154.6h0M331.1 196.9h0M330.5 169.5h0M325.2 161.1h0M333.9 210.1h0M332 182h0M325.8 217.4h0M328 163.2h0M333.9 205.5h0M325.5 192h0M327.8 165h0M334 198.1h0M333.3 129.7h0M325.8 197.5h0M331.4 141.1h0M327.2 162.6h0M330.6 212.5h0M331.8 181.6h0M324.6 205h0M325.7 187h0M325.6 183.6h0M326.2 104.3h0M323.6 189.2h0M324.7 113.8h0M327.7 156.3h0M327.9 222.8h0M325.5 261h0M329.7 147.6h0M333.8 248.7h0M329.7 146.1h0M327.2 134.3h0M331.1 158.5h0M328.1 181.2h0M325.2 182.8h0M328.6 163.5h0M323.4 184.8h0M330.8 193.5h0M325 187.3h0M327.3 129h0M334 196.8h0M331.8 158.9h0M332.6 216.9h0M330.4 200.3h0M330.3 225.3h0M331.1 180.8h0M334 147.4h0M325.4 161.7h0M331.8 191.9h0M326.6 150.1h0M326.1 186.4h0M332.4 159.2h0M329.9 162.9h0M332.7 152.8h0M331.3 267h0M329.8 222.6h0M325.4 144h0M323.4 177.3h0M329.1 88.4h0M331.3 182.2h0M326.3 194.1h0M324 116.8h0M323.3 152.3h0M325.1 101.5h0M331 154h0M323.2 181h0M325.8 145.9h0M326.2 203.1h0M331.2 190.2h0M334.3 194.3h0M323.4 181.7h0M324.5 143.8h0M333.7 191.5h0M334.1 161.1h0M324.9 192.1h0M327 139.9h0M329.1 181.1h0M326.8 166.9h0M327.9 214.1h0M328.6 135h0M326.1 165.1h0M323.8 124.9h0M324.1 136.9h0M325 149h0M324.2 178.9h0M330.2 214.3h0M331 181.6h0M326.1 190.7h0M332.1 163.8h0M331.4 190.9h0M327 233.7h0M328.7 128.9h0M325.3 191h0M333.6 182.4h0M329.5 138.3h0M323.8 173.2h0M324.9 219.1h0M331 157.7h0M327.5 180.7h0M331.1 251h0M325.8 165.8h0M332.1 213.1h0M332.2 201.4h0M324.3 155.1h0M329.8 162h0M325.3 184.2h0M330.7 91.3h0M332.2 157.4h0M332.1 196.5h0M325.8 164.4h0M324.2 177.9h0M330.3 256.5h0M329.5 232.8h0M324.7 225.8h0M325.6 95.3h0M329.7 180.2h0M324.4 183.7h0M330.3 194.6h0M325.9 136.3h0M326.1 172.2h0M327.9 108.9h0M329.2 143.5h0M331.3 111.2h0M323.5 177.7h0M331.3 159.1h0M325.7 189.6h0M326.5 179.6h0M330.4 238.6h0M330.9 195.2h0M330.1 209.2h0M333.3 197.9h0M325.5 127.4h0M326.7 163.4h0M330.6 127.1h0M326.1 140.9h0M325 138.6h0M325.7 135.4h0M331.8 196.1h0M332.5 143h0M331.2 185.4h0M333.9 193.3h0M332.1 128.2h0M327 91.7h0M326.7 210.2h0M331.3 107.8h0M323.8 142h0M330 205.2h0M324.2 163h0M323.7 159.3h0M329 159.1h0M324.9 186.7h0M333.6 221.7h0M333 172.1h0M328.4 140.8h0M325.4 143.7h0M324.5 148.4h0M328.9 131.8h0M329 210.6h0M327.3 174.9h0M331.2 160.5h0M329.1 135.6h0M331.9 167.4h0M324.4 153.8h0M324 168.2h0M327.7 94.2h0M328.6 255.5h0M326 174.2h0M330 80h0M325.7 164.4h0M326.8 242.3h0M328.5 168.2h0M331.2 227.3h0M331.8 198.9h0M327.4 164.8h0M328.2 108.7h0M333.6 155.9h0M333.7 148.1h0M330.1 134.9h0M324.4 165.7h0M328.3 205.6h0M330.3 177h0M326.3 160.6h0M323.6 183.7h0M334.2 198.4h0M333.4 186.8h0M324.6 229.8h0M328.4 211.9h0M330.1 176.7h0M326.6 186.9h0M324 171.9h0M331.6 120.4h0M331.8 162h0M328.1 174.5h0M324.2 217.5h0M327.6 213.9h0M324.3 159.1h0M334 206.1h0M323.8 157.1h0M326.4 213.7h0M331.8 168.2h0M324.7 176h0M324.4 135.8h0M324 188h0M325 187.3h0M329.2 164h0M332.5 171.2h0M325.1 109.7h0M325.1 183h0M331.8 193.5h0M328 185.3h0M327 155.4h0M324.6 164.5h0M325.9 147.2h0M334.1 225.3h0M326.2 80.1h0M326.1 104.1h0M331.5 174.5h0M333.2 218.8h0M333.3 167.5h0M328.5 157.7h0M332.8 257.3h0M330 172.8h0M326.4 228.9h0M328.4 156h0M331.2 121.3h0M331.4 134.4h0M324.7 229.9h0M325.4 121.3h0M333.9 139.2h0M324.4 186.9h0M332.3 154.4h0M327 116.2h0M326 185.8h0M326.1 173.9h0M328.5 194.3h0M334.3 129.8h0M325.5 254.3h0M332.8 119.9h0M326.8 209.7h0M325.1 138.4h0M331.5 234.4h0M327 208.5h0M325.3 195.8h0M327.9 142.1h0M332.4 234.3h0M332.9 150.6h0M329.6 197.2h0M323.3 126.6h0M331.8 185h0M330 155h0M333.3 179.7h0M333.9 105.8h0M326.9 186.8h0M332.7 174.2h0M332.4 98.6h0M326.2 170.4h0M327.3 147.5h0M327.4 201h0M327.2 165.8h0M327.8 258.6h0M324.4 169.3h0M325.7 197.6h0M333.4 229.8h0M327.8 226.6h0M330.3 130.3h0M333.1 157.2h0M331.7 230.3h0M325.9 105h0M333.5 199.5h0M332.2 187.2h0M334.3 164h0M331.4 216.1h0M331.7 234.1h0M332.3 201.3h0M326 128.8h0M330.5 137.5h0M327.5 232.7h0M332.6 128h0M324.7 172h0M329.2 154.5h0M327 171.3h0M332.4 157.7h0M327.1 210.9h0M332.7 207.5h0M332.7 199.7h0M333 187.1h0M324.8 150h0M333.7 219h0M331.5 113.3h0M330.8 197.1h0M330.5 195.4h0M323.7 146.8h0M332.9 157h0M329.3 186h0M328.3 213.5h0M327 210.9h0M332 233.4h0M332 130.3h0M332.9 132.5h0M325.6 103h0M327 154.5h0M326 160.8h0M324.3 144.8h0M326.9 137.5h0M323.5 183h0M332.1 160h0M326.2 92.2h0M324 237h0M324 226.2h0M331.5 209.5h0M325.4 144.9h0M328.4 128.6h0M327.7 186h0M332.2 148h0M333.9 175.1h0M326.7 162h0M330.3 193.6h0M333.2 174.3h0M328.5 173.5h0M333.3 130.7h0M330.8 89.3h0M326.7 241.6h0M333 153.2h0M329.6 173.5h0M324.4 136.8h0M329.8 133.3h0M332.5 143.9h0M329 142.8h0M328.6 209h0M327.9 237.5h0M333.1 110.4h0M330.7 127.8h0M325.5 209.1h0M327.3 124.7h0M327.3 148.2h0M332 265.7h0M331 139.4h0M324.6 210.4h0M333.4 129.4h0M323.6 198.9h0M329.8 201.3h0M328 231.5h0M331.2 181.4h0M328 135h0M324.2 198.6h0M329.1 243.3h0M331.9 92.5h0M332 103.8h0M327.2 147.3h0M325.7 193.5h0M331.5 218.9h0M332.2 235h0M325.7 152.3h0M333.1 124.3h0M334.3 213.2h0M328.1 173.3h0M327.5 183.7h0M331.2 182.9h0M333.6 154.4h0M325.8 94.5h0M326.6 197.3h0M326.9 141.3h0M331.4 132.3h0M325.3 184h0M329.3 178.9h0M328.8 223.8h0M330.7 132.6h0M324.8 193.3h0M333.9 197.9h0M334.4 170.7h0M329.5 205.6h0M332.1 212.6h0M325.3 184.5h0M333.4 117.3h0M329.4 181h0M331.7 153.4h0M332.9 228.6h0M327.3 246.7h0M333.5 104.8h0M325.5 188.3h0M323.5 231.3h0M328.8 177.3h0M333.3 150.4h0M333.3 238.4h0M333.9 206.5h0M328.9 163.5h0M333.6 208h0M329.5 143.2h0M324.8 137h0M330.3 156.6h0M332.2 189.5h0M327.9 175h0M329.9 197.1h0M326.1 178.2h0M326.3 161.3h0M327.9 184.6h0M328.9 136.6h0M328.6 75.4h0M324.2 193.9h0M323.3 160.3h0M327 142.2h0M331.2 149h0M331.6 182.3h0M325.9 191.4h0M326.1 135.4h0M329 149.7h0M325.2 154.2h0M330 203.6h0M333.3 149.4h0M325.5 143.3h0M329.8 180.3h0M331.3 148.9h0M331.1 91.3h0M331.2 244.2h0M331.2 150.4h0M326.3 217.5h0M332.6 224.8h0M333.6 182.2h0M323.8 152.7h0M333.8 171.3h0M328.2 217.3h0M324.2 227.6h0M324 194.3h0M332.1 172.8h0M330.8 204.7h0M324.8 230.1h0M328.4 107h0M330.4 205h0M334.4 179.2h0M327 194h0M331.8 195.4h0M325.9 171.8h0M325.4 184.5h0M325 149.9h0M327.8 218.1h0M330.1 229.5h0M326.6 99.5h0M325 176.1h0M325.6 144.2h0M324.2 128.6h0M325.4 152.3h0M326.7 171.9h0M328.9 232.1h0M325.3 233.9h0M328.6 136.3h0M328.1 147.7h0M334.1 151.7h0M328.6 236.1h0M333.1 254h0M328.5 213.3h0M325.4 218h0M329.8 167.2h0M324.8 212h0M325.1 113.4h0M324 196.9h0M331.1 194.6h0M334 140.6h0M327.7 160.8h0M327.2 207.3h0M328 142.2h0M327.1 100.4h0M330.9 219.8h0M327.6 182.7h0M324.9 214.1h0M332.9 246.9h0M329.6 149.5h0M323.3 146.8h0M332.7 136.3h0M331.4 157h0M327.2 249.7h0M330.3 174.3h0M333.5 198.6h0M327.7 217.9h0M328 215.3h0M326.5 144.2h0M329.4 184.5h0M330.6 98.7h0M331.4 155.4h0M333.8 245.8h0M324.8 139.3h0M327.3 125.8h0M332.7 172.1h0M332.1 219.3h0M329.8 106.1h0M330.8 223.2h0M327 176.5h0M333.8 245.7h0M329.4 220.9h0M327.7 237.9h0M325.2 131.9h0M324.5 128.5h0M333.3 188.7h0M332.2 224.8h0M323.5 175.6h0M326.8 158.9h0M328.6 231.3h0M328.8 217.4h0M327.3 177.2h0M333.2 146.5h0M327.1 170.4h0M329.2 156.2h0M333.6 220.8h0M329.7 268.1h0M328.5 161.4h0M326.9 208.2h0M327.5 178h0M330 187.7h0M332 155h0M326.1 202.7h0M327.3 118.2h0M327.5 172.1h0M327.3 153.1h0M333.4 149.3h0M329.2 133.7h0M326.3 157.9h0M326.9 240.1h0M332.4 197.3h0M325 102.3h0M330.9 155.2h0M323.4 151.9h0M325.4 155.4h0M323.9 197.8h0M332.2 199.2h0M324.8 198h0M325.8 129h0M323.8 159.4h0M326.2 105.3h0M331.4 154.2h0M331.3 101h0M333.4 155.8h0M333.8 218.5h0M329.4 106.7h0M333.5 160.4h0M324.2 127.7h0M333.6 165.1h0M328.1 185.8h0M325.4 166.8h0M331.6 216.3h0M332.8 219h0M327.5 207.3h0M324.2 193.4h0M333 225.2h0M331.6 177.2h0M329.9 161.6h0M333.8 95.5h0M323.6 102.7h0M323.8 175.2h0M324.6 139.4h0M323.4 181.7h0M331.1 158.3h0M330.3 174.6h0M324.5 194h0M325 170.4h0M325.2 230.1h0M330 156.4h0M330.7 184.4h0M334.1 214.9h0M327.2 187.1h0M334.2 152h0M328.1 199.4h0M327.6 155h0M326 151.4h0M325.8 113.4h0M334.1 215.1h0M334.3 177.6h0M331.1 153.6h0M325.2 115.6h0M325.2 163.2h0M324.9 144.3h0M327.1 229.7h0M331.5 195.7h0M323.9 109.3h0M329.1 184.2h0M330.4 90h0M323.6 201.3h0M328.1 184h0M332.1 234.7h0M329.6 148.8h0M328.3 163.1h0M332.8 95.5h0M329.9 166.9h0M327 182.9h0M327.6 227.6h0M333.8 176.5h0M332.8 136.8h0M333.4 144.7h0M329.5 125.9h0M324.8 139.9h0M325.2 175.1h0M327.5 149.9h0M330.9 166.6h0M323.3 224.7h0M332.2 107.2h0M332 158.8h0M329 213.9h0M323.3 158.4h0M332.1 162.2h0M327.8 134.8h0M330.7 117.5h0M329.6 151.8h0M331.4 114.1h0M327.8 209.9h0M334 245.1h0M333.9 162.5h0M333.6 160.3h0M330.1 159.7h0M326.7 216.2h0M327.4 191.3h0M326.2 165.7h0M333.3 144.5h0M331.3 88.5h0M332 161.9h0M332.4 196.6h0M332.3 264.6h0M330.9 131.7h0M326.8 178.4h0M331.7 177.5h0M326.1 211.5h0M330 144.8h0M325 242.7h0M332.8 169.1h0M328.7 168.6h0M326.3 161.7h0M333.5 122.7h0M324.1 177.1h0M333.6 169.6h0M331.7 140.1h0M324.9 233.4h0M331.7 184.6h0M329.6 170.7h0M333.4 136.2h0M329.8 204.3h0M328 142.1h0M333.7 158.4h0M324.2 231h0M331.9 230.7h0M324.4 228.9h0M326.3 167.9h0M324.5 165.3h0M333 145.2h0M328.1 141.4h0M331.3 194.7h0M326.1 131.8h0M331.4 141.5h0M330.5 155h0M324.3 154.7h0M328.7 223.2h0M331.3 159.2h0M325.6 213.4h0M330.5 219.6h0M326.3 186.9h0M327.3 167.9h0M333.5 175.4h0M333.8 186.1h0M334.4 212.1h0M328 166h0M329.6 202.1h0M332.3 228h0M331.7 169.7h0M328.3 116.8h0M332.9 189h0M327.7 214.5h0M333.8 119.5h0M328.5 106.7h0M324.5 184.7h0M331.6 181.5h0M324.8 165h0M330.8 168.1h0M323.8 134.6h0" stroke="#000" stroke-width="2.4" stroke-linecap="round" fill="none"/>
<path d="M388 178.3h0M389.6 184.3h0M383.6 310.8h0" stroke="#000" stroke-width="2.4" stroke-linecap="round" fill="none"/>
<path d="M390.1 217.9h0M386.4 250h0M389.8 248.8h0M385.5 258.3h0M381.4 260.3h0M385 262.3h0M384.6 248h0M383.2 203.5h0M383.4 221.1h0M384.9 242.5h0M385.8 207.6h0M381.7 223.6h0M382.3 243.2h0M384.8 251.4h0M384.8 269.2h0M383.9 242.2h0M386.6 254.3h0M381.3 278.5h0M385.2 272.8h0M382.9 201.1h0M387.8 243h0M387.1 236.1h0M387.9 243.3h0M385 257.1h0M382 237h0M389.6 221.9h0M384.9 254.1h0M383.4 235.8h0M382.5 223.3h0M383.7 257.4h0M387.1 244.1h0M388.4 262.4h0M384.6 233.5h0M387.4 255.3h0M381.6 220.3h0M384.3 262.8h0M383.2 207.1h0M382.6 254.1h0M383.2 264.3h0M387.7 265.5h0M387.4 232.1h0M381.5 264.6h0M382.1 204.3h0M388 217h0M386.5 235.6h0M386.8 275.4h0M386.3 248.7h0M387 262.1h0M382.3 282.8h0M379.9 237.9h0M383.9 194.7h0M379.6 258.5h0M390 228.5h0M385.1 217h0M386.7 266.6h0M390 254.7h0M388.2 241.7h0M381.8 236.7h0M383 270.1h0M380.4 242.9h0M388.1 250.3h0M387.5 225.1h0M384.7 278.7h0M383.3 259h0M382.2 257.8h0M384.7 254.3h0M387.2 230.6h0M389.2 260.2h0M388.7 261.7h0M388.9 227.8h0M384.1 223.4h0M383.9 224.7h0M382.7 252.1h0M390.1 264.1h0M381.3 253.1h0M381 232h0M382.3 245.3h0M389.5 234.1h0M388.8 234.2h0M382.9 265.1h0M388.7 266.1h0M389.2 213.2h0M384 257.5h0M381.4 278.5h0M387.4 203h0M383.4 264.1h0M380.5 266.1h0M389.3 224.7h0M384.1 269.8h0M383.7 264.9h0M385.9 222.7h0M382.1 263.9h0M379.4 245.8h0M383.6 245.1h0M383.4 246.9h0M379.3 260.5h0M383.4 252.5h0M387.7 257.8h0M382.9 248.7h0M386.8 229.4h0M386.2 272.5h0M381.3 265.8h0M379.4 288.2h0M386.8 211.6h0M386 249.6h0M382.5 248.5h0M381.4 249.3h0M388.8 223.8h0M389.4 240.4h0M381.8 227.5h0M385.8 251.4h0M385.6 250.5h0M382.8 249.3h0M379.6 283.8h0M382.8 221.7h0M386.4 278.4h0M385.9 267.2h0M384.9 231.9h0M380.6 246.9h0M381.6 228.4h0M382.7 206.7h0M384 202.9h0M383.3 214.6h0M389.3 252.5h0M381.9 198.4h0M390.2 265h0M381.9 249.9h0M388.8 224h0M381.9 252.3h0M385.8 250.5h0M383.4 255h0M379.6 215h0M387.3 295.4h0M388.3 217.3h0M382.2 222.4h0M387.9 249.6h0M384.6 234.6h0M390.3 266.7h0M379.8 221.2h0M383.5 265.8h0M381.8 214.2h0M386.2 249.3h0M387.9 254.7h0M388.6 257.5h0M385.3 251.8h0M383.5 272.1h0M388.2 274.2h0M380.4 207.8h0M382.1 248.6h0M387.6 234.8h0M384.1 240.7h0M390.3 236.6h0M380.2 277.4h0M384.4 266.3h0M381.6 232.8h0M379.2 223.9h0M380.2 270.1h0M380.2 259.3h0M383.3 268.6h0M384 232.3h0M384.9 239.8h0M382.4 247.4h0M387.1 260.6h0M385 239.9h0M390.2 247.4h0M381.1 262.4h0M384.9 240.1h0M384.7 260.9h0M383.4 225.1h0M388.8 233h0M381.5 261.4h0M389 233.9h0M383.2 246.6h0M383 261.7h0M386.1 265.7h0M385.5 280h0M382.4 269.8h0M380.1 239.8h0M389.9 218.8h0M383.3 260.2h0M380.5 244.3h0M386.6 239.8h0M385.2 229.2h0M382.9 237.4h0M382.9 218.4h0M388.7 229.6h0M383 262.8h0M383.9 238.6h0M389.2 293h0M383.2 251.6h0M383.7 247.7h0M381 234.1h0M386.6 254h0M386.6 228h0M384.2 216.1h0M383.7 264.3h0M381.8 258.6h0M388 241.9h0M384.3 236.3h0M388.5 244.7h0M383.4 228h0M387.4 270.8h0M379.5 229.3h0M381.7 219.8h0M390 221.2h0M386.8 237.8h0M386.8 252.8h0M384.8 238.5h0M384.5 249.6h0M381.4 278.5h0M381.1 259.8h0M386.4 249h0M387 258.1h0M382.1 266h0M386.4 252.6h0M380.7 255.3h0M386.1 246.5h0M381.1 249.1h0M384.9 244h0M382.7 224.1h0M385.4 244.9h0M380.7 238.3h0M384.6 271.6h0M386.1 255.9h0M380.7 231.7h0M382.7 254.7h0M386.8 260.1h0M385.3 271.9h0M386.1 226.5h0M387.9 258.3h0M385.6 242.2h0M381.7 220.7h0M384.2 235.2h0M386.8 193.6h0M385.5 250.7h0M387.6 225h0M383.3 231.3h0M384.2 260.7h0M390.1 247.1h0M388.4 259h0M386.5 267.8h0M380.4 240.9h0M386.1 263h0M379.6 207.4h0M389.7 262.4h0M390.1 258.6h0M387.4 246h0M382.2 258.1h0M388.7 246.9h0M381.2 259.8h0M388.5 275.4h0M385 294.3h0M379.4 272.9h0M389.2 211.2h0M384.1 237.4h0M388.5 244.5h0M386.9 257.1h0M385.2 251h0M388.9 240.9h0M381.5 274.8h0M389.3 263.5h0M383 265.2h0M379.5 217.6h0M383 268.4h0M379.9 219.7h0M380 257.1h0M386.2 249.7h0M380.6 247.4h0M381 215.4h0M382.5 226.9h0M382.3 225.4h0M389.5 268.6h0M389.3 220.6h0M388.9 207.3h0M390.3 250.2h0M384.1 257.5h0M388.1 269.1h0M382.3 223.5h0M389.6 241.1h0M388.3 248.1h0M387.4 271.8h0M381.7 208.8h0M380.2 226.9h0M389.6 248.6h0M385.4 212.3h0M386.1 266.4h0M388.9 226.8h0" stroke="#000" stroke-width="2.4" stroke-linecap="round" fill="none"/>
<path d="M306.4 321.3H350.8M362.3 321.3H406.6" stroke="#000" stroke-width="1.6"/>
<rect x="266.2" y="19.5" width="180.6" height="302.8" fill="none" stroke="#000" stroke-width="1.2"/>
<path d="M259 32.1H266.2" stroke="#000" stroke-width="1.2"/>
<text transform="translate(252.3 32.1) rotate(-90)" text-anchor="middle" font-family='"Liberation Sans", Arial, sans-serif' font-size="10.2">8</text>
<path d="M259 104.5H266.2" stroke="#000" stroke-width="1.2"/>
<text transform="translate(252.3 104.5) rotate(-90)" text-anchor="middle" font-family='"Liberation Sans", Arial, sans-serif' font-size="10.2">6</text>
<path d="M259 176.9H266.2" stroke="#000" stroke-width="1.2"/>
<text transform="translate(252.3 176.9) rotate(-90)" text-anchor="middle" font-family='"Liberation Sans", Arial, sans-serif' font-size="10.2">4</text>
<path d="M259 249.3H266.2" stroke="#000" stroke-width="1.2"/>
<text transform="translate(252.3 249.3) rotate(-90)" text-anchor="middle" font-family='"Liberation Sans", Arial, sans-serif' font-size="10.2">2</text>
<path d="M356.8 322.3V329.1" stroke="#000" stroke-width="1.2"/>
<text x="355.5" y="344.6" text-anchor="middle" font-family='"Liberation Sans", Arial, sans-serif' font-size="10.2">BRCA</text>
<text x="355.5" y="355.8" text-anchor="middle" font-family='"Liberation Sans", Arial, sans-serif' font-size="10.2">(num(T)=1085; num(N)=291)</text>
<path d="M328.4 38.6V30.8H351.4M361.9 30.8H384.6V171.8" stroke="#000" stroke-width="1.25" fill="none"/>
<text x="356.4" y="41.2" text-anchor="middle" font-family='"Liberation Sans", Arial, sans-serif' font-size="19" fill="#e8232a" stroke="#e8232a" stroke-width="0.35">*</text>
<text x="401.8" y="47.4" font-family='"Liberation Serif", "Times New Roman", serif' font-size="8.2" font-weight="bold">SPAG5</text>
<path d="M566 44.1V133.3M566 205.3V307.9" stroke="#000" stroke-width="0.8" stroke-dasharray="2.2 1.6" fill="none"/>
<path d="M554.5 44.5H577.4M554.5 307.5H577.4" stroke="#000" stroke-width="1" fill="none"/>
<rect x="543.6" y="133.3" width="44.7" height="72" fill="#eb6361" stroke="#000" stroke-width="1"/>
<path d="M543.6 168.1H588.3" stroke="#000" stroke-width="3.2" fill="none"/>
<path d="M621.8 265.5V288.8M621.8 305.1V311.2" stroke="#000" stroke-width="0.8" stroke-dasharray="2.2 1.6" fill="none"/>
<path d="M610.3 265.5H633.2M610.3 311.5H633.2" stroke="#000" stroke-width="1" fill="none"/>
<rect x="599.4" y="288.8" width="44.7" height="16.3" fill="#1c3894" stroke="#000" stroke-width="1"/>
<path d="M599.4 300H644.1" stroke="#000" stroke-width="3.2" fill="none"/>
<path d="M567.1 222.4h0M564.1 115.8h0M562.3 102h0M565.1 261.2h0M570.6 146.7h0M563 202.7h0M562 158.3h0M567.2 125.6h0M567.6 180.1h0M565.9 171.4h0M562.2 270.6h0M570 166.9h0M561.4 84.3h0M562.1 198.9h0M562.9 144.6h0M566 140.5h0M565.5 212h0M566.4 120.3h0M568.3 180.7h0M570.2 168.2h0M565.4 166.1h0M560.7 258h0M569.5 131.8h0M560.4 204h0M563.8 155.5h0M561.8 119.5h0M566.9 177h0M569 247.3h0M561.6 223.2h0M563.5 131.2h0M569.7 99.1h0M567.9 67.8h0M561.4 231.7h0M567.9 156.7h0M569.1 159.8h0M564.8 203.2h0M561.9 176.8h0M567.6 218.1h0M563.8 158.8h0M561.7 190.5h0M562 180.6h0M564.7 91.9h0M561.6 220.7h0M564.5 162.3h0M566.4 201.7h0M566.4 186.2h0M564.7 171.2h0M569.2 166.8h0M561.2 155.6h0M563.9 207.8h0M570.7 134.6h0M569.9 228.3h0M570.5 229.4h0M568.8 213.5h0M566.2 101.7h0M569 101.3h0M566.6 196.4h0M561.5 63.5h0M563.1 149.6h0M561.3 247.9h0M570 144.9h0M563.8 221.5h0M564.8 230.3h0M566.1 287.2h0M561.3 158.7h0M568.1 144.9h0M569.1 223.3h0M569.1 134h0M570.1 145.3h0M563.8 137.1h0M561.8 132.1h0M568.7 208.2h0M568 147.6h0M564.4 140.3h0M564 199.3h0M561.9 184.6h0M569.5 234.8h0M565.4 157.6h0M569.3 227.9h0M564 144.3h0M563.8 162.9h0M565.9 176.6h0M568.6 135.3h0M570.1 183.5h0M564.2 77.9h0M568 146h0M564.7 229.2h0M569.8 196.8h0M568.7 149h0M566.4 75.3h0M564.3 198.5h0M563.3 85.9h0M570.1 158.4h0M569.2 97.8h0M563.6 199.4h0M561.1 210.2h0M562.4 187.9h0M571 165.6h0M560.6 219.9h0M569.3 233.4h0M566.1 128.9h0M566.4 111.6h0M566.2 170.8h0M564.8 193.1h0M566.4 109.8h0M561.2 261.3h0M570.5 129.1h0M561.4 155.3h0M561.8 132.3h0M567.7 147.2h0M567.4 114.1h0M569.2 135.6h0M568 168.2h0M570.6 122.2h0M560.8 219h0M560.3 155.5h0M562.9 147.2h0M568.9 252.7h0M561.9 138.9h0M566.2 142.7h0M568.8 119.6h0M562 165.6h0M566.1 102.7h0M570.3 115.3h0M568.6 134h0M564.7 164.3h0M565.6 153.7h0M563.3 165.7h0M571 224.1h0M569 118.8h0M567.8 190.9h0M563.6 176.2h0M568.4 148.6h0M565.7 106.4h0M569.1 189h0M564.3 222.4h0M570.1 146.9h0M567.9 156.2h0M565.2 269.9h0M566.5 201.8h0M569.2 163h0M566.1 263.4h0M571 104.5h0M560.3 235h0M570.2 124.3h0M568.2 224.4h0M565.7 190.3h0M569.7 204.5h0M561.9 186.6h0M564 269.9h0M568.2 206.5h0M569.4 122.4h0M564.4 143h0M570.8 58h0M567.5 270.7h0M560.7 92h0M561.6 161.7h0M561.1 238.8h0M566.6 245.3h0M563.8 196.4h0M563.1 162.7h0M565.2 194.8h0M561.1 86.5h0M570.4 173.1h0M569.6 204.6h0M566.5 217.8h0M565.2 230.2h0M563.7 174.4h0M567 177.7h0M564.1 213.1h0M571.1 150.8h0M570.9 208.5h0M568.3 196.4h0M569.5 112h0M561 109.7h0M561.6 190.2h0M564.1 74.5h0M561.6 191.5h0M564.9 103.9h0M571.2 158.5h0M569.5 193.3h0M570.9 170.5h0M562.7 188.4h0M562.7 156.8h0M560.5 172.9h0M563.3 176.6h0M560.8 219.6h0M566.1 144.8h0M563.6 118.8h0M567.7 224.4h0M566.5 168.6h0M566.9 120.6h0M563.6 122.1h0M568.4 212.1h0M567.9 211.2h0M568.2 129.1h0M565.5 148.4h0M565.4 202.3h0M563.4 97.5h0M560.6 141.1h0M565.4 215.3h0M567.1 166.6h0M562.3 212h0M569.8 155.8h0M570 158h0M569.8 273.1h0M569.3 133.2h0M565.7 151.1h0M562.2 112h0M563.2 164.6h0M568.5 211.7h0M571.2 130.3h0M561.4 114.2h0M561.3 282.7h0M564.2 110.1h0M564.1 136.1h0M566.9 192.2h0M561.5 220.4h0M569.7 189.1h0M564 110.5h0M570.4 155.7h0M563.9 128.3h0M563.6 191.5h0M562.2 241.5h0M571 212.2h0M566.6 54.2h0M569.4 120.4h0M560.9 132.5h0M566.3 138.9h0M568.4 170.4h0M571.2 178.6h0M570.7 188.2h0M561.4 148.1h0M564.4 177.7h0M571.4 166.5h0M566.2 145.6h0M570.9 136.7h0M563 147.4h0M560.5 156.5h0M570.8 145.7h0M563.2 106.4h0M566.5 102.3h0M564.2 91.6h0M566.7 204h0M570.7 147.4h0M570.8 162.2h0M570 64.2h0M563.1 82.4h0M569.4 142.1h0M560.6 61.1h0M564.9 92.8h0M570.8 229.6h0M563.1 128.1h0M564.3 151.8h0M566.7 187h0M562.9 91.1h0M568.1 135.4h0M567.5 242.2h0M561.3 213.5h0M570.5 179.2h0M561 105.3h0M568 145.5h0M564.1 114.4h0M561.8 182.4h0M561.1 97.3h0M571.4 181.3h0M569.2 126.6h0M565.3 182.5h0M569.1 186h0M571.1 148h0M570.6 228.5h0M566.2 164.5h0M563.3 141.5h0M566 232.4h0M571.2 171.7h0M568.4 178.1h0M567.7 219.8h0M569.6 265.9h0M564.8 107.9h0M566.5 190.9h0M569.7 271.5h0M562.4 128.8h0M569.8 182.7h0M560.5 138.7h0M566.2 236.9h0M566.6 114.4h0M561.8 227.5h0M570.5 247.4h0M565.1 188.8h0M562.3 176h0M564.8 146h0M566.8 193.7h0M565 172.4h0M560.2 93h0M561.2 147.2h0M568.2 111.2h0M561.7 173.6h0M563.1 191.9h0M569.2 181.7h0M569.9 189.7h0M570.1 245.9h0M562.2 156.1h0M560.3 174.3h0M568.6 183h0M566.9 118.2h0M564.3 212.4h0M560.4 131.9h0M565 227.3h0M562.9 108.6h0M566.8 172.8h0M571.2 246.8h0M562.5 225.8h0M561 127.4h0M568 203h0M561.4 171.5h0M562.7 212.1h0M565.1 138.9h0M571.2 269.6h0M563.8 145.8h0M563.7 162.8h0M565.5 78.7h0M562 196.1h0M565.1 293.5h0M568 112.2h0M563.8 264.9h0M569.1 178.7h0M562.3 73h0M561.3 214.6h0M567.2 160.8h0M565.3 234.1h0M570.5 96.5h0M561.4 110.3h0M568.6 255.7h0M567.7 184.2h0M564.3 197.2h0M561.6 128.7h0M567.1 109.7h0M568.7 156.5h0M565.5 120.2h0M565.5 142.9h0M567.9 149.2h0M567 176.1h0M564.9 206h0M562.3 140.1h0M565.4 207.8h0M566.4 141.2h0M570.2 205.6h0M571.3 174.1h0M566.4 113.9h0M563.9 110.1h0M562.7 163.7h0M567.3 174.4h0M568.5 162.2h0M563 134.1h0M567.9 208.4h0M571.4 167.7h0M564.6 162.5h0M570.7 126.9h0M565.1 143.5h0M567.5 164.3h0M569.9 186.1h0M562.5 237.6h0M564.1 209h0M571.2 169.1h0M560.9 201.1h0M564 282.1h0M565.6 50.1h0M568.5 146.9h0M567.3 186.4h0M570.6 161.6h0M567.7 177.2h0M560.2 192.1h0M561 264.2h0M560.6 191.2h0M565 232.8h0M560.5 156h0M566.1 197.2h0M567.3 209.5h0M562.5 178.7h0M569.8 196.7h0M564.8 147.1h0M571 186.5h0M564.2 236.6h0M567.1 154.1h0M566.3 243.3h0M563.1 267.8h0M568.9 239.8h0M560.2 141.2h0M563 233.1h0M563.8 225.5h0M569.6 57.4h0M565.8 185.5h0M560.6 149.8h0M563.5 210.6h0M567 94.4h0M569.3 96.9h0M561.4 200.9h0M568.9 235h0M564.7 277.2h0M566.1 157.8h0M564.9 226.2h0M565.1 257.3h0M571.3 146.3h0M570.5 178.9h0M570.5 144.2h0M568.4 240.4h0M568 235.7h0M561.8 167.2h0M560.6 85.6h0M569.5 145.9h0M567.7 185.9h0M567.3 126.4h0M563.7 120.4h0M563.2 235.2h0M569.6 53.5h0M566.2 109h0M560.4 169.3h0M564 147.5h0M564.1 242.2h0M561 100.9h0M571.2 158.2h0M570.3 148.9h0M569.3 178h0M560.2 165.1h0M564.9 223.7h0M561.4 161.3h0M568.3 114.2h0M569.3 184h0M569 112.6h0M569.1 244.7h0M561.6 202.4h0M560.3 188.8h0M561.2 189.5h0M569.6 108.6h0M569.5 230h0M566 120.1h0M562.8 216.1h0M569.8 169.7h0M562.3 281.9h0M563.8 153.7h0M560.2 121.1h0M571.2 144h0M564.8 166.3h0M568.8 114.5h0M569.2 148.6h0M566.7 124.6h0M571.3 240.1h0M568.9 66.9h0M570.6 190h0M571 229.6h0M561.1 204.9h0M568.6 114.8h0M562.7 163.9h0M563.8 173.6h0M564 92.6h0M571.3 105.8h0M560.9 140.9h0M565.1 213h0M561.6 123.5h0M571.4 188.9h0M565.8 153.8h0M568.1 179.4h0M566 265.1h0M568.8 190.1h0M564 183.7h0M564.8 257.5h0M568.5 232.3h0M568.1 76.8h0M570.1 175.8h0M563.8 61h0M569.7 136.4h0M568.5 190.4h0M566.6 205.8h0M564.8 78.9h0M566.6 217.1h0M561.1 135.7h0M561.3 193.2h0M563.7 215.1h0M561.6 192.8h0M560.7 194.3h0M568.2 79.9h0M568.4 204.4h0M567.1 200.7h0M563.4 288.4h0M568.3 201.4h0M569.1 278h0M567.1 217.1h0M562.7 236.4h0M566.5 108.7h0M564.6 157.1h0M563.2 251h0M561.9 196.4h0M569.9 93.6h0M567.3 182.9h0M570.6 244.5h0M562.1 157.5h0M563.2 251.2h0M565.9 185.8h0M560.9 159.5h0M563.6 171.1h0M566.2 215.7h0M565.6 67.6h0M570.4 78.7h0M566.7 132.9h0M567.3 91h0M566.8 152.9h0M569 155.6h0M564.3 206.2h0M560.2 196.7h0M571.2 141.6h0M569.1 186.8h0M561.6 232.1h0M561.5 206.1h0M562.7 197.8h0M567.2 283.7h0M561.7 238.1h0M560.4 143.7h0M565.8 299.7h0M560.3 166.9h0M563.1 102.6h0M564.5 205.8h0M562.5 135.1h0M560.2 157h0M563.1 199.9h0M562.9 255.6h0M563.8 201.8h0M564.8 158.4h0M564.2 172.3h0M563.8 176.3h0M560.4 105.3h0M569.6 138.2h0M568.5 180.7h0M565.7 138.6h0M560.2 214.1h0M563.6 287.3h0M570.3 205h0M565.3 123.4h0M562.5 149h0M569.4 151.8h0M570.2 143.9h0M561.6 196h0M565.8 88.4h0M566.5 192.4h0M561.5 181.5h0M563.8 147.5h0M567.1 229.4h0M567.7 105.4h0M567.2 89.2h0M567.1 151.7h0M564.4 202.4h0M561 76h0M560.4 204.9h0M569.6 167.8h0M569.9 165.7h0M570.3 99.7h0M561.1 243.4h0M568.8 92.3h0M562.1 114.7h0M564.1 156.9h0M562.4 244.4h0M569.8 90.1h0M567.8 304.8h0M569.5 216.5h0M564.5 77.1h0M570.7 126.6h0M563.1 190.6h0M566.6 201.6h0M567.7 243.6h0M562.8 127.2h0M564.5 225.3h0M561.3 174.7h0M569.1 127.2h0M562.3 196.4h0M561.7 175.9h0M563.3 95.6h0M567.4 256.2h0M567.3 164h0M566.1 84.1h0M569.8 181h0M568.6 192.7h0M562.5 151.6h0M566.2 259.4h0M562.1 176.7h0M562.9 144.9h0M561.8 186.7h0M561.1 76.5h0M564.1 265.9h0M570.1 147.3h0M567.5 154.2h0M561.2 146.3h0M562.7 233.3h0M566.8 77.1h0M566.1 156.9h0M560.5 150h0M561.3 167.7h0M566.5 191.9h0M566.9 179.3h0M561.1 187.8h0M568.9 166.5h0M562.9 87.8h0M566.8 129h0M566.1 207.9h0M564 181.1h0M570.8 163.8h0M564.6 189.9h0M564.9 134h0M566.3 147.4h0M569.6 251.6h0M571.3 153.7h0M568.8 233.5h0M566.2 177h0M568.2 195h0M567.3 202.1h0M570.9 138.2h0M571.1 186h0M568.7 80.8h0M562.6 157.3h0M566.6 121.1h0M565.1 190.1h0M562.9 61.7h0M569 208.2h0M562.7 215.7h0M568.1 257.5h0M565.7 84h0M565 112.9h0M568.1 190.2h0M568.3 267h0M571.3 212.3h0M571.4 169.8h0M569.2 126.1h0M563.2 116.9h0M567.7 129.3h0M565.7 164.4h0M570.7 199.6h0M565.2 99.6h0M564.2 221.1h0M560.5 161.8h0M565.5 107h0M566.2 265.2h0M563.7 188h0M561.4 148.5h0M565.6 226.5h0M561 235.7h0M562.1 97.3h0M565.2 205.2h0M564.1 191.3h0M565.8 106.9h0M566.1 182h0M564.6 110.7h0M562.7 285.7h0M560.4 144.2h0M566.5 65h0M571.1 237.3h0M563.4 148.8h0M564.1 89.4h0M563.8 74.2h0M568.5 238.3h0M565.7 253.3h0M569.1 81.8h0M560.3 63.9h0M561.7 151.6h0M562.5 145.8h0M564.3 215.8h0M564.7 150.2h0M564.5 201.3h0M571 167.1h0M565.1 229.2h0M566.6 198.6h0M571 149h0M567.4 140.8h0M566.9 251.9h0M569.5 88.4h0M563.9 158.6h0M560.6 116.2h0M570.9 229.4h0M566.2 131.7h0M566.7 67h0M560.9 251.4h0M568.5 202.8h0M564.4 206.6h0M567.4 152.1h0M563.4 155.3h0M570.5 239.5h0M564.3 176.6h0M563.3 117.8h0M570.2 211.4h0M562.7 142h0M563.2 197.2h0M565.7 151.7h0M571.2 100.6h0M561.5 195.2h0M562.6 223.3h0M569.1 183.3h0M561 168.1h0M564.8 120.8h0M569 227.2h0M568.2 165.7h0M569.1 98.7h0M561.5 177.2h0M570.2 163.3h0M564.2 150.7h0M569.3 141h0M565.5 125.9h0M570.2 145h0M565.6 279.8h0M563.1 160h0M561.9 73.8h0M565.8 231.1h0M560.8 143.9h0M562 183.8h0M570 171.4h0M566.6 94.3h0M569.9 135.5h0M561.9 188h0M565.6 217.5h0M565.4 80.2h0M561.4 217.1h0M563.2 174.6h0M570.5 148.9h0M568.3 243h0M565.9 194.2h0M567 165.5h0M569.8 152h0M570.9 182.4h0M566.9 166.9h0M560.8 174.4h0M570 244.1h0M562 178.9h0M562.9 110h0M561.7 164.4h0M565.9 133.4h0M566.7 126.3h0M565.4 77.2h0M565.5 250.6h0M561.8 143.2h0M568.2 224.8h0M566.2 87.4h0M563.7 233.4h0M569.5 213h0M570.7 222.7h0M570.5 124.5h0M571.2 114.6h0M561 199.6h0M564.6 227.3h0M565.2 184.2h0M563.1 187.2h0M568.5 188h0M570.3 134.1h0M561.8 163.3h0M565.9 175.4h0M571 271.1h0M570.2 130.8h0M565.2 150.5h0M561.4 252.9h0M565.3 180.7h0M566 130.6h0M569 181.1h0M562.3 212h0M563.3 176.6h0M571.2 217.9h0M560.3 163.4h0M567 238.9h0M561.3 104.8h0M568 283.5h0M565 57.8h0M570 56.9h0M562.7 161.1h0M570 101h0M562.7 155.4h0M560.7 239.3h0M561.2 107.9h0M561.1 182.9h0M564.6 134h0M571.1 153.5h0M564.2 235.3h0M568.2 165.9h0M560.6 231.1h0M566 77.2h0M566.2 146.8h0M561.3 155.9h0M566.7 107.9h0M565.2 126h0M563.9 168h0M569.5 214.8h0M567.9 247.8h0M561.5 206.6h0M561.4 212.6h0M560.8 176.8h0M563.2 248.5h0M567.3 149.7h0M571 103.3h0M571.1 239.9h0M569.9 218.8h0M561.6 153h0M569.1 123.7h0M568.7 181.6h0M565.5 147.7h0M571.4 219.1h0M566.9 96.5h0M561.5 197.7h0M562.6 183.8h0M561.7 171.2h0M567 195h0M567.2 167.9h0M569.8 198.8h0M560.3 134.1h0M560.3 144.5h0M571.1 211.1h0M563.1 172.2h0M563.2 72.3h0M569.9 253.6h0M561.4 186.9h0M569.1 79.6h0M570.2 191.5h0M566.5 233.9h0M567 172.2h0M560.3 159.6h0M567 170.5h0M567.1 191.2h0M568.8 126.2h0M566 149.7h0M561.5 113.4h0M562.7 158.5h0M567.5 175.2h0M561.1 144.1h0M561.4 208.2h0M563.6 51.9h0M569.1 158.2h0M566.3 173.3h0M564.2 130.9h0M571 129.4h0M566.7 133.3h0M562.9 143.1h0M566.5 144.7h0M569.8 168.1h0M564.3 96.6h0M565.1 211.9h0M566.7 152.7h0M571.3 260.7h0M567.4 183.3h0M562.2 176.2h0M566.7 217.3h0M563.8 84.3h0M565.5 215.5h0M568.2 225.3h0M560.4 191.5h0M565.9 182.1h0M563.7 142.5h0M566.9 112.1h0M569.4 217.1h0M565.4 67.2h0M567.3 96.1h0M563.4 157.3h0M563.1 177.4h0M565.9 180.4h0M566.2 206.3h0M562.7 268.6h0M568.8 191h0M565.8 205.8h0M564.2 116.6h0M563 186.1h0M569.6 198.7h0M570.3 208.2h0M570.7 208.9h0M563 133.3h0M561 171.9h0M567.3 171.9h0M560.5 183.4h0M569.8 172.2h0M567.8 141.2h0M564 128.6h0M565.1 114.4h0M567.8 123.9h0M562 82h0M564.3 105.6h0M569 124.9h0M567.8 149.9h0M566.8 189.8h0M561.4 149.3h0M562.6 77.5h0M564 292h0M560.6 144.6h0M567.4 196.9h0M566.6 121.5h0M570.6 119.9h0M566.4 181.3h0M569.8 56.2h0M565.5 192.1h0M566 147.1h0M563.4 103.1h0M565.4 142.8h0M570.7 177.9h0M565.7 113.5h0M560.2 244.4h0M564.2 168.4h0M562.4 241.8h0M567 57.2h0M565.9 87.5h0M565.5 92h0M570.6 111h0M568.7 176.1h0M561.2 214.9h0M560.5 190.4h0M568 219.4h0M566.9 168h0M567.5 184.3h0M565.8 119.1h0M560.6 189.9h0M565.3 147.9h0M569.6 226.1h0M566.9 150.5h0M560.7 210.6h0M561.6 179.9h0M570.3 171.5h0M566.3 190.1h0M562 166.6h0M568.1 116.3h0M570.6 231.4h0M568.2 299.2h0M567.4 101.4h0M569.2 212.8h0M561.2 94.4h0M565.4 126.1h0M569.3 178.5h0M564 241.6h0M563 45.3h0M569.9 155.9h0M568.1 235.8h0M560.3 140.6h0M560.9 150.8h0M566.4 208.2h0M569.4 46.9h0M567.1 145.6h0M570 170.1h0M561.4 152.5h0M566.5 52.8h0M562.2 170.5h0M563.9 205.3h0M561.9 97.8h0M565.4 75.7h0M560.7 204.8h0M567.6 230h0M567.4 130h0M570.3 126.9h0M568.8 163.9h0M561 169.6h0M569.9 184.4h0M566.3 159h0M570.7 142.6h0M565.7 168.5h0M561.1 68.2h0M568.1 198h0M562.1 169.9h0M571.2 184h0M566.2 189.4h0M570.3 227.8h0M565.7 198.5h0M563.9 166.4h0M567.6 265.7h0M568.1 175.6h0M565.4 92.8h0M563.3 86.4h0M564.9 205.6h0M568.2 147.5h0M562.8 164h0M562 107.9h0M565.6 210.5h0M567.6 224.6h0M560.9 117.9h0M563.2 209.6h0M571.1 181h0M563.2 165.9h0M568.8 158.4h0M563.6 190.4h0M561.2 126.6h0M565.6 127.8h0M569.9 128.3h0M568.1 48.5h0M560.7 141.7h0M567.8 279.3h0M567.2 157.1h0M565.6 196.6h0M567.6 251.3h0M566 165.6h0M562.2 214.1h0M568 172.9h0M561.6 204.7h0M563.7 236.9h0M569.7 192.8h0M566.6 162.8h0M565.9 200.6h0M568.2 224.6h0M565.7 83.9h0M564.5 117.6h0M566.4 140.6h0M560.4 142.8h0M564.1 99.7h0M560.6 113.9h0M571.4 170.4h0M570.4 246.7h0M567.5 156h0M562 232.5h0M569.1 281.4h0M563.4 214.8h0M569.2 215.5h0M567.5 231.9h0M567 221.9h0M568.5 201.7h0M563.2 165h0M569.5 238.9h0M566.3 128.6h0M568.7 126.6h0M569.6 219h0M563.1 140.6h0M564.8 215.9h0M564.2 187.4h0M561.1 212.6h0M570 131.8h0M567.9 268.5h0M565.7 63.1h0M566.3 159.6h0M570.1 162.7h0M561 177.8h0M564.2 221.8h0M567.9 237.2h0M566.2 145.1h0M565.8 195.1h0M563.1 138.3h0M563 58h0M567.7 157.4h0M564 126.7h0M570.7 184.8h0M570.3 215.1h0M571.1 157.7h0M563.4 60.9h0M566 126.9h0M561.4 147.2h0M564.2 202.7h0M561 170.6h0M565.8 84h0M570.9 150.4h0M568.7 226.7h0M564.3 198.2h0M563.3 142.3h0M570.6 135.7h0M560.8 271.7h0M569.7 151.3h0M569.8 189h0M562.9 299.4h0M570.9 255.8h0M567.4 181.2h0M564.6 227h0M565 156.3h0M567 152.9h0M566.1 170.4h0M569.9 188.5h0M570.2 139h0M563.9 243.1h0M561.2 281.1h0M568.9 149.1h0M567.5 99.5h0M567.5 199h0M561 109.4h0M561 125.6h0M570.3 204.3h0M564.3 148.5h0M565.5 88.8h0M571.1 206.2h0M562.4 139.8h0M567.3 140.9h0M560.9 207.1h0M566.5 108.8h0M568.5 194.6h0M562 115.9h0M568.7 154.7h0M571 199.9h0M569.5 177.2h0M569.1 216h0M570.8 213.8h0M568.2 202.8h0M566.3 102.5h0M569.4 125.2h0M569.2 132.3h0M567.2 223.5h0M567.7 222.3h0M562.2 175.9h0M564 156.2h0M563.8 118.6h0M569.8 119h0M569 146h0M563.5 127.2h0M571.3 254.1h0M560.9 247.2h0M560.9 209.6h0M563.9 172.1h0M561.1 205.6h0M570.8 190.5h0M564.2 161.7h0M564.5 199.1h0M569.8 172.5h0M566.2 109.8h0M567.3 140.7h0M565.1 185.9h0M565.4 157.9h0M570.9 141.1h0M563.3 157h0M566.1 120.5h0M565.6 240.7h0M561.8 111.9h0M561.8 218.9h0M565.9 133h0M569.1 242.7h0M565 111.3h0M560.9 121.1h0M570.7 200.8h0M561.7 131.7h0M570.1 187.7h0M560.7 102.4h0M567.5 177.3h0M561.8 190.2h0M563.1 216.6h0M564.9 172.1h0M568.7 139.1h0M565.1 129.5h0M564.9 202h0M564.7 187.3h0M566 225.4h0M563.3 204.6h0M570.9 174.3h0M562.3 146.3h0M561.7 123.9h0M566.3 196.5h0M564.1 230h0M568.3 82.5h0M560.6 166.8h0M567.8 186.9h0M564.3 159.7h0M570.6 170.4h0M563.6 130.7h0M565 137.7h0M563.8 229.7h0M566.2 187.2h0M563.3 131.7h0M567.7 179.4h0M564.8 125.5h0M568.1 222.8h0M563.5 89h0M565.3 147.9h0M566.4 249.8h0M568.2 108.7h0M567.5 220.5h0M565 155.7h0M561.2 157.4h0M561.5 146.6h0M561.8 132h0M562.3 267.5h0M562.3 186h0M567.6 217.6h0M564 197.7h0M570.4 160.5h0M562.8 167.1h0M563 217.8h0M562.2 124.2h0M561.8 172.1h0M567.8 62.7h0M566.7 109.5h0M563 114.9h0M569.3 238.8h0M567.8 78.6h0M565 175.4h0M567 144.1h0M567.6 137h0M565.1 74.7h0M561.2 90.8h0M564.3 178.6h0M570.8 186.5h0M564.4 208.4h0M567.4 171.4h0M561.2 145.2h0M568.9 152h0" stroke="#000" stroke-width="2.4" stroke-linecap="round" fill="none"/>
<path d="M618.5 208.5h0M616.1 215.6h0M619.4 216.6h0M622 227.5h0M627.3 226.3h0M627.3 237.9h0M617.3 240.5h0M619 240.1h0M626.1 247h0M616.6 247.7h0M617.3 255.7h0M626.1 258.1h0M619.7 259.5h0M621.6 260.5h0M619 261.2h0M624.4 261.7h0" stroke="#000" stroke-width="2.4" stroke-linecap="round" fill="none"/>
<path d="M626.8 300.1h0M626.4 300.1h0M622.3 294h0M624.1 304.3h0M623.4 305.6h0M620.5 307.9h0M621.6 283.5h0M621.7 294.2h0M619.9 267.8h0M619 310.6h0M625.3 307.9h0M624.5 288.4h0M623.3 288.1h0M623.5 297.5h0M621.7 298h0M622.4 307.4h0M623.1 292.3h0M616.3 303.5h0M621 308.1h0M625.8 290.8h0M618.4 302.9h0M621.3 290.7h0M617 303.5h0M620.1 268.8h0M625.1 305.6h0M617.8 286.3h0M624.3 291.9h0M624.8 301.8h0M625.6 309.2h0M619.3 295.3h0M625.6 293.5h0M620.8 270.6h0M621.1 305.8h0M626.5 306.3h0M622.1 302.5h0M622.8 272.5h0M617.4 304.9h0M617.5 287.2h0M619.1 310.4h0M617.3 309.2h0M624.1 281.8h0M619.2 294.8h0M626.5 308.3h0M623.3 295.9h0M618.4 299.4h0M623.5 291.8h0M619.8 298.2h0M621.9 294.4h0M617 310.1h0M624.5 290.5h0M624.7 301h0M622.5 303.2h0M623.7 306.3h0M620.6 267.3h0M617.7 299.9h0M620.1 289.2h0M623.8 292h0M622.3 305.9h0M617.7 310.4h0M619.7 279.5h0M621.3 307h0M617.2 291.3h0M616.7 310.8h0M621.1 310.7h0M617.6 306.9h0M624.8 285.9h0M618.4 288.6h0M623.6 285.5h0M624.3 293.6h0M619.6 310.9h0M622 295.2h0M626.9 310.2h0M622.3 268.2h0M620.5 295.8h0M626.7 305.4h0M619.1 298.8h0M626.5 309.3h0M619.9 290.5h0M620.8 305.3h0M620.2 282.4h0M623.2 306.6h0M624.6 283.3h0M623.2 288.3h0M619.2 281.5h0M626.9 302.9h0M623.4 283.8h0M621.7 299.1h0M623.8 269.6h0M618.8 276.8h0M622.4 289.3h0M624.7 304h0M624.6 301.4h0M622.7 270h0M618.1 284.1h0M621.5 267.5h0M620.1 272.6h0M622.7 296.7h0M620.5 299.2h0M621.3 273.3h0M621.9 285.8h0M622.4 292.7h0M625.8 310.4h0M619.2 310.9h0M619.4 296.3h0M618.2 308.8h0M619.3 267.2h0M625.4 309h0M626.1 305.1h0M617.6 307.8h0M620.6 277.8h0M624.8 284.2h0M625.3 298.6h0M625.8 289.6h0M626.1 292h0M619.7 294.3h0M617.6 292.7h0M619.1 296.4h0M621.6 298.5h0M617.8 283.3h0M618.9 308.4h0M621.4 283.1h0M622.9 277.1h0M618.4 292.5h0M617.6 300.8h0M619.8 308.7h0M617.2 308.9h0M618.1 292.7h0M617.3 306.4h0M623.7 278.2h0M624.1 271.9h0M617.2 295.6h0M624.9 306.3h0M625.3 301.5h0M623 294h0M620.1 280.3h0M624.8 297h0M617.1 302.6h0M616.9 299.3h0M626.2 298.2h0M618.6 305.2h0M625.6 295.5h0M623.5 282h0M616.8 300.5h0M618.3 285.3h0M623 295h0M617.8 310.9h0M623.4 303.1h0M623.2 292.4h0M618.7 305.7h0M621.3 309.6h0M618.5 305.7h0M625.6 307.2h0M622.8 293.8h0M623.7 310.2h0M622.9 303.6h0M617.5 294.1h0M625.8 306.6h0M624.6 302.5h0M621.7 297.2h0M622.6 304.9h0M621.5 289.5h0M624.4 308.3h0M621.9 293.7h0M619.8 286.3h0M621.8 309h0M619 292.2h0M616.3 302.4h0M621.8 278.6h0M624.8 288.4h0M623.5 288.9h0M618.5 306.4h0M621.7 306.3h0M622.2 282.2h0M622.1 271.5h0M621.2 309.7h0M621.7 298.3h0M623.6 303.3h0M625.3 296.2h0M621.7 291.6h0M623.7 278.7h0M622.9 276.7h0M617.5 303.4h0M619.6 288.2h0M619.6 300h0M620.2 295.9h0M621.5 293.2h0M620 285h0M627 306.8h0M623 267.7h0M620.2 307h0M623.8 302.2h0M624.1 266.1h0M618 300.3h0M623 310.3h0M626.6 305.8h0M620.3 310.4h0M624.3 277h0M624.9 307h0M620.3 277.9h0M617.8 311h0M624.9 308h0M620.7 300.6h0M620 309.1h0M621.2 296h0M624 301.1h0M624.5 279.2h0M625.6 295h0M623.2 267h0M618.1 306.7h0M620.4 291.3h0M617 293.4h0M618.4 306.8h0M619.9 302h0M618.1 305.3h0M621.3 306h0M618.5 288.5h0M623.3 301.8h0M621 276.4h0M619.4 290.9h0M622.8 269.3h0M619.7 309h0M618.8 266.4h0M624.8 294.3h0M623.7 287.3h0M625.7 304.7h0M620 282.8h0M619.2 298.8h0M623.1 280.7h0M618.5 290.3h0M626.6 307.6h0M623.3 302.7h0M621.9 277.9h0M616.8 310.8h0M619.8 287.4h0M620.9 292.4h0M625.2 281.3h0M617.8 301.7h0M622.5 295.7h0M617.5 295.7h0M625 278.2h0M624.3 309.4h0M624.5 294.2h0M624.3 304h0M618.8 290h0M618.8 304h0M616.6 305.7h0M622.2 304.9h0M617.2 300.4h0M619.3 279.5h0M618.1 303.7h0M625.4 291.9h0M624.7 311h0M619.8 287.4h0M626.7 308.4h0M618.4 293.7h0M618.2 294.9h0M620.7 284.7h0M624.9 303.1h0M618.2 288h0M624.7 309.4h0M621.9 270.5h0M624.8 302.5h0M620.4 281.6h0M616.7 309.5h0M619.2 268h0M624 304.4h0M621.6 272.6h0M623.7 283.5h0M618.7 296.3h0M620.2 272.4h0" stroke="#000" stroke-width="2.4" stroke-linecap="round" fill="none"/>
<path d="M543.8 311.2H588.1M599.6 311.2H643.9" stroke="#000" stroke-width="3.2" stroke-linecap="round"/>
<circle cx="619" cy="170.1" r="1"/>
<rect x="503.4" y="19.5" width="180.8" height="302.5" fill="none" stroke="#000" stroke-width="1.2"/>
<path d="M496.2 25H503.4" stroke="#000" stroke-width="1.2"/>
<text transform="translate(489 25) rotate(-90)" text-anchor="middle" font-family='"Liberation Sans", Arial, sans-serif' font-size="10.2">6</text>
<path d="M496.2 72.7H503.4" stroke="#000" stroke-width="1.2"/>
<text transform="translate(489 72.7) rotate(-90)" text-anchor="middle" font-family='"Liberation Sans", Arial, sans-serif' font-size="10.2">5</text>
<path d="M496.2 120.4H503.4" stroke="#000" stroke-width="1.2"/>
<text transform="translate(489 120.4) rotate(-90)" text-anchor="middle" font-family='"Liberation Sans", Arial, sans-serif' font-size="10.2">4</text>
<path d="M496.2 168.1H503.4" stroke="#000" stroke-width="1.2"/>
<text transform="translate(489 168.1) rotate(-90)" text-anchor="middle" font-family='"Liberation Sans", Arial, sans-serif' font-size="10.2">3</text>
<path d="M496.2 215.8H503.4" stroke="#000" stroke-width="1.2"/>
<text transform="translate(489 215.8) rotate(-90)" text-anchor="middle" font-family='"Liberation Sans", Arial, sans-serif' font-size="10.2">2</text>
<path d="M496.2 263.5H503.4" stroke="#000" stroke-width="1.2"/>
<text transform="translate(489 263.5) rotate(-90)" text-anchor="middle" font-family='"Liberation Sans", Arial, sans-serif' font-size="10.2">1</text>
<path d="M496.2 311.2H503.4" stroke="#000" stroke-width="1.2"/>
<text transform="translate(489 311.2) rotate(-90)" text-anchor="middle" font-family='"Liberation Sans", Arial, sans-serif' font-size="10.2">0</text>
<path d="M593.2 322V328.8" stroke="#000" stroke-width="1.2"/>
<text x="592.5" y="344" text-anchor="middle" font-family='"Liberation Sans", Arial, sans-serif' font-size="10.2">BRCA</text>
<text x="592.5" y="355.2" text-anchor="middle" font-family='"Liberation Sans", Arial, sans-serif' font-size="10.2">(num(T)=1085; num(N)=291)</text>
<path d="M565.6 38.6V30.8H588.6M599.4 30.8H621.4V163.7" stroke="#000" stroke-width="1.25" fill="none"/>
<text x="593.5" y="41.2" text-anchor="middle" font-family='"Liberation Sans", Arial, sans-serif' font-size="19" fill="#e8232a" stroke="#e8232a" stroke-width="0.35">*</text>
<text x="641.7" y="47.4" font-family='"Liberation Serif", "Times New Roman", serif' font-size="8.2" font-weight="bold">KIF20A</text>
<text x="351.2" y="9.8" text-anchor="middle" font-family='"Liberation Serif", "Times New Roman", serif' font-size="13" fill="#222">(a)</text>
<text x="351.5" y="389.6" text-anchor="middle" font-family='"DejaVu Sans", sans-serif' font-size="11" fill="#333">(b)</text>
<path d="M38.9 428.3C38.9 430.9 38.4 440 39 443.6C39.6 447.2 40.9 447.9 42.5 450C44.1 452.1 47.6 454.3 48.9 456.4C50.2 458.5 50.1 460.2 50.4 462.8C50.6 465.4 50.2 469 50.4 471.8C50.6 474.6 51 476.9 51.4 479.5C51.8 482.1 53.1 484.8 53 487.1C52.9 489.4 52 491.4 50.9 493.5C49.8 495.6 47.9 497.5 46.4 499.9C44.9 502.2 42.8 505.2 41.7 507.6C40.6 510 40.1 511.9 39.6 514C39.1 516.1 39 518 38.9 520C38.8 522 38.9 525.2 38.9 526.3L37.9 526.3C37.9 525.2 38 522 37.9 520C37.8 518 37.7 516.1 37.2 514C36.7 511.9 36.2 510 35.1 507.6C34 505.2 31.9 502.2 30.4 499.9C28.9 497.5 27 495.6 25.9 493.5C24.8 491.4 23.9 489.4 23.8 487.1C23.7 484.8 25 482.1 25.4 479.5C25.8 476.9 26.2 474.6 26.4 471.8C26.6 469 26.1 465.4 26.4 462.8C26.6 460.2 26.6 458.5 27.9 456.4C29.2 454.3 32.6 452.1 34.3 450C35.9 447.9 37.2 447.2 37.8 443.6C38.4 440 37.9 430.9 37.9 428.3Z" fill="#dcdcdc" stroke="#000" stroke-width="1.2" stroke-linejoin="round"/>
<path d="M38.4 428.3V526.3" stroke="#000" stroke-width="1.2"/>
<path d="M38.4 464.1V491" stroke="#000" stroke-width="3.3"/>
<circle cx="38.4" cy="478.7" r="1.9" fill="#fff"/>
<path d="M77.7 434.7C78.7 436.6 81.8 442.1 83.6 446.2C85.4 450.2 87.4 454.9 88.5 459C89.6 463.1 90.1 466.7 90 470.5C89.9 474.3 89 478.4 88 482C87 485.6 85.5 488.9 84.2 492.3C82.9 495.7 81.4 499.1 80.3 502.5C79.2 505.9 78.1 509.7 77.5 512.7C76.9 515.7 76.8 519.1 76.7 520.4L73.7 520.4C73.6 519.1 73.5 515.7 72.9 512.7C72.3 509.7 71.2 505.9 70.1 502.5C69 499.1 67.5 495.7 66.2 492.3C64.9 488.9 63.4 485.6 62.4 482C61.4 478.4 60.5 474.3 60.4 470.5C60.3 466.7 60.8 463.1 61.9 459C63 454.9 65 450.2 66.8 446.2C68.6 442.1 71.7 436.6 72.7 434.7Z" fill="#dcdcdc" stroke="#000" stroke-width="1.2" stroke-linejoin="round"/>
<path d="M75.2 434.7V520.4" stroke="#000" stroke-width="1.2"/>
<path d="M75.2 460.3V484.6" stroke="#000" stroke-width="3.3"/>
<circle cx="75.2" cy="471.8" r="1.9" fill="#fff"/>
<path d="M112.3 417.5C112.3 420.1 112.1 430.1 112.5 433.4C112.9 436.6 114 435.3 114.9 437C115.8 438.7 116.6 441.2 117.8 443.6C119 446 120.8 448.3 122.1 451.3C123.4 454.3 124.7 458.1 125.5 461.5C126.3 464.9 126.6 468.8 126.7 471.8C126.8 474.8 126.4 477.4 125.9 479.5C125.4 481.6 124.8 482.5 123.7 484.6C122.7 486.7 120.9 489.3 119.6 492.3C118.3 495.3 116.7 499.1 115.7 502.5C114.7 505.9 114.1 509.9 113.7 512.7C113.3 515.6 113.5 518.5 113.4 519.6L110.4 519.6C110.4 518.5 110.5 515.6 110.1 512.7C109.7 509.9 109.1 505.9 108.1 502.5C107.1 499.1 105.5 495.3 104.2 492.3C102.9 489.3 101.2 486.7 100.1 484.6C99.1 482.5 98.4 481.6 97.9 479.5C97.4 477.4 97 474.8 97.1 471.8C97.2 468.8 97.5 464.9 98.3 461.5C99.1 458.1 100.4 454.3 101.7 451.3C103 448.3 104.8 446 106 443.6C107.2 441.2 108 438.7 108.9 437C109.8 435.3 110.9 436.6 111.3 433.4C111.7 430.1 111.5 420.1 111.5 417.5Z" fill="#dcdcdc" stroke="#000" stroke-width="1.2" stroke-linejoin="round"/>
<path d="M111.9 417.5V519.6" stroke="#000" stroke-width="1.2"/>
<path d="M111.9 459V484.6" stroke="#000" stroke-width="3.3"/>
<circle cx="111.9" cy="473.6" r="1.9" fill="#fff"/>
<path d="M151.4 442.9C152.2 444.3 154.5 448.2 156.1 451.3C157.7 454.4 160 458.1 161.2 461.5C162.4 464.9 163.2 468.4 163.2 471.8C163.2 475.2 162 478.6 161.2 482C160.4 485.4 159.2 489.7 158.6 492.3C158 494.9 157.8 496.1 157.4 497.4C157 498.7 156.3 499.7 156.1 500.2L140.7 500.2C140.5 499.7 139.8 498.7 139.4 497.4C139 496.1 138.8 494.9 138.2 492.3C137.6 489.7 136.4 485.4 135.6 482C134.8 478.6 133.6 475.2 133.6 471.8C133.6 468.4 134.4 464.9 135.6 461.5C136.8 458.1 139.1 454.4 140.7 451.3C142.3 448.2 144.6 444.3 145.4 442.9Z" fill="#dcdcdc" stroke="#000" stroke-width="1.2" stroke-linejoin="round"/>
<path d="M148.4 442.9V500.2" stroke="#000" stroke-width="1.2"/>
<path d="M148.4 464.9V489.7" stroke="#000" stroke-width="3.3"/>
<circle cx="148.4" cy="472.6" r="1.9" fill="#fff"/>
<path d="M188.2 455.9C189.4 456.8 193.4 459.7 195.2 461.5C197 463.3 198.2 465.2 199 466.7C199.8 468.2 200.2 469 200 470.5C199.8 472 198.9 473.7 197.7 475.6C196.5 477.5 194.1 479.6 192.6 482C191.1 484.4 189.7 487.1 188.8 489.7C187.9 492.3 187.5 495.6 187.2 497.4C186.9 499.1 187.2 499.7 187.2 500.2L183.2 500.2C183.2 499.7 183.5 499.1 183.2 497.4C182.9 495.6 182.5 492.3 181.6 489.7C180.7 487.1 179.3 484.4 177.8 482C176.3 479.6 173.9 477.5 172.7 475.6C171.5 473.7 170.6 472 170.4 470.5C170.2 469 170.6 468.2 171.4 466.7C172.2 465.2 173.4 463.3 175.2 461.5C177 459.7 181 456.8 182.2 455.9Z" fill="#dcdcdc" stroke="#000" stroke-width="1.2" stroke-linejoin="round"/>
<path d="M185.2 455.9V491.7" stroke="#000" stroke-width="1.2"/>
<path d="M185.2 469.2V478.7" stroke="#000" stroke-width="3.3"/>
<circle cx="185.2" cy="470" r="1.9" fill="#fff"/>
<rect x="13" y="399.3" width="198.6" height="131.6" fill="none" stroke="#000" stroke-width="1.5"/>
<path d="M8.9 517.1H13" stroke="#000" stroke-width="1.3"/>
<text transform="translate(5.4 517.1) rotate(-90)" text-anchor="middle" font-family='"Liberation Sans", Arial, sans-serif' font-size="6.5">2</text>
<path d="M8.9 499.8H13" stroke="#000" stroke-width="1.3"/>
<text transform="translate(5.4 499.8) rotate(-90)" text-anchor="middle" font-family='"Liberation Sans", Arial, sans-serif' font-size="6.5">3</text>
<path d="M8.9 482.5H13" stroke="#000" stroke-width="1.3"/>
<text transform="translate(5.4 482.5) rotate(-90)" text-anchor="middle" font-family='"Liberation Sans", Arial, sans-serif' font-size="6.5">4</text>
<path d="M8.9 465.2H13" stroke="#000" stroke-width="1.3"/>
<text transform="translate(5.4 465.2) rotate(-90)" text-anchor="middle" font-family='"Liberation Sans", Arial, sans-serif' font-size="6.5">5</text>
<path d="M8.9 447.9H13" stroke="#000" stroke-width="1.3"/>
<text transform="translate(5.4 447.9) rotate(-90)" text-anchor="middle" font-family='"Liberation Sans", Arial, sans-serif' font-size="6.5">6</text>
<path d="M8.9 430.6H13" stroke="#000" stroke-width="1.3"/>
<text transform="translate(5.4 430.6) rotate(-90)" text-anchor="middle" font-family='"Liberation Sans", Arial, sans-serif' font-size="6.5">7</text>
<path d="M8.9 413.3H13" stroke="#000" stroke-width="1.3"/>
<text transform="translate(5.4 413.3) rotate(-90)" text-anchor="middle" font-family='"Liberation Sans", Arial, sans-serif' font-size="6.5">8</text>
<path d="M38.4 530.9V534.5" stroke="#000" stroke-width="1.2"/>
<text x="38.4" y="543.2" text-anchor="middle" font-family='"Liberation Sans", Arial, sans-serif' font-size="5.8">Stage I</text>
<path d="M75.2 530.9V534.5" stroke="#000" stroke-width="1.2"/>
<text x="75.2" y="543.2" text-anchor="middle" font-family='"Liberation Sans", Arial, sans-serif' font-size="5.8">Stage II</text>
<path d="M111.9 530.9V534.5" stroke="#000" stroke-width="1.2"/>
<text x="111.9" y="543.2" text-anchor="middle" font-family='"Liberation Sans", Arial, sans-serif' font-size="5.8">Stage III</text>
<path d="M148.4 530.9V534.5" stroke="#000" stroke-width="1.2"/>
<text x="148.4" y="543.2" text-anchor="middle" font-family='"Liberation Sans", Arial, sans-serif' font-size="5.8">Stage IV</text>
<path d="M185.2 530.9V534.5" stroke="#000" stroke-width="1.2"/>
<text x="185.2" y="543.2" text-anchor="middle" font-family='"Liberation Sans", Arial, sans-serif' font-size="5.8">Stage X</text>
<text x="26.9" y="413.7" font-family='"Liberation Serif", "Times New Roman", serif' font-size="8.6" font-weight="bold">RACGAP1</text>
<text x="200.3" y="407.6" text-anchor="end" font-family='"Liberation Sans", Arial, sans-serif' font-size="6.2">F value = 3.29</text>
<text x="200.3" y="414.9" text-anchor="end" font-family='"Liberation Sans", Arial, sans-serif' font-size="6.2">Pr(&gt;F) = 0.0109</text>
<path d="M275.6 439.8C275.6 440.9 275.3 443.9 275.8 446.2C276.3 448.5 277.4 451.3 278.4 453.9C279.4 456.4 280.4 459.2 281.7 461.5C283 463.8 285 466 286.1 467.9C287.2 469.8 287.9 471.5 288.4 473.1C288.9 474.7 289.2 475.7 289.1 477.4C289 479.1 288.1 481 287.6 483.3C287.1 485.6 286.6 488.6 286.1 491C285.6 493.4 285.7 495 284.8 497.4C283.9 499.8 282.1 502.6 281 505.1C279.9 507.7 278.8 510.2 277.9 512.7C277 515.2 276.2 518.4 275.8 520.4C275.4 522.4 275.6 524.2 275.6 525L273 525C273 524.2 273.2 522.4 272.8 520.4C272.4 518.4 271.6 515.2 270.7 512.7C269.8 510.2 268.8 507.7 267.6 505.1C266.5 502.6 264.7 499.8 263.8 497.4C262.9 495 263 493.4 262.5 491C262 488.6 261.5 485.6 261 483.3C260.5 481 259.6 479.1 259.5 477.4C259.4 475.7 259.7 474.7 260.2 473.1C260.7 471.5 261.4 469.8 262.5 467.9C263.6 466 265.6 463.8 266.9 461.5C268.2 459.2 269.2 456.4 270.2 453.9C271.2 451.3 272.3 448.5 272.8 446.2C273.3 443.9 273 440.9 273 439.8Z" fill="#dcdcdc" stroke="#000" stroke-width="1.2" stroke-linejoin="round"/>
<path d="M274.3 439.8V525" stroke="#000" stroke-width="1.2"/>
<path d="M274.3 473.1V496.9" stroke="#000" stroke-width="3.3"/>
<circle cx="274.3" cy="483" r="1.9" fill="#fff"/>
<path d="M312.6 417.5C312.7 419.3 312.6 425.2 312.9 428.3C313.2 431.4 313.4 433 314.2 436C315.1 439 316.6 442.8 318 446.2C319.4 449.6 321.2 453 322.4 456.4C323.6 459.8 324.7 463.5 325.4 466.7C326.1 469.9 326.5 472.6 326.4 475.6C326.3 478.6 325.7 481.4 324.9 484.6C324.1 487.8 323 491.4 321.8 494.8C320.6 498.2 319.2 501.7 318 505.1C316.8 508.5 315.5 512.3 314.7 515.3C313.9 518.3 313.4 521 313.1 523C312.8 525 312.9 526.8 312.9 527.6L310.3 527.6C310.3 526.8 310.4 525 310.1 523C309.8 521 309.3 518.3 308.5 515.3C307.7 512.3 306.4 508.5 305.2 505.1C304 501.7 302.6 498.2 301.4 494.8C300.2 491.4 299.1 487.8 298.3 484.6C297.5 481.4 296.9 478.6 296.8 475.6C296.7 472.6 297.1 469.9 297.8 466.7C298.5 463.5 299.6 459.8 300.8 456.4C302 453 303.8 449.6 305.2 446.2C306.6 442.8 308.1 439 309 436C309.9 433 310 431.4 310.3 428.3C310.6 425.2 310.6 419.3 310.6 417.5Z" fill="#dcdcdc" stroke="#000" stroke-width="1.2" stroke-linejoin="round"/>
<path d="M311.6 417.5V527.6" stroke="#000" stroke-width="1.2"/>
<path d="M311.6 464.1V489.2" stroke="#000" stroke-width="3.3"/>
<circle cx="311.6" cy="477.2" r="1.9" fill="#fff"/>
<path d="M349.2 430.3C349.3 431.2 349.3 433.8 349.7 436C350.1 438.2 350.7 441.1 351.5 443.6C352.3 446.2 353.4 448.7 354.5 451.3C355.6 453.9 357.2 456.4 358.4 459C359.6 461.6 360.9 464.1 361.7 466.7C362.5 469.2 363 471.8 363.2 474.3C363.4 476.9 363.3 479.4 363 482C362.7 484.6 362 487.1 361.2 489.7C360.4 492.3 359.6 494.4 358.4 497.4C357.2 500.4 355 504.6 353.8 507.6C352.6 510.6 351.6 512.9 351 515.3C350.4 517.6 350.1 520.1 349.9 521.7C349.7 523.3 349.7 524.3 349.7 524.8L347.1 524.8C347.1 524.3 347.1 523.3 346.9 521.7C346.7 520.1 346.4 517.6 345.8 515.3C345.1 512.9 344.2 510.6 343 507.6C341.8 504.6 339.6 500.4 338.4 497.4C337.2 494.4 336.4 492.3 335.6 489.7C334.8 487.1 334.1 484.6 333.8 482C333.5 479.4 333.4 476.9 333.6 474.3C333.8 471.8 334.3 469.2 335.1 466.7C335.9 464.1 337.2 461.6 338.4 459C339.6 456.4 341.1 453.9 342.3 451.3C343.4 448.7 344.5 446.2 345.3 443.6C346.1 441.1 346.7 438.2 347.1 436C347.5 433.8 347.5 431.2 347.6 430.3Z" fill="#dcdcdc" stroke="#000" stroke-width="1.2" stroke-linejoin="round"/>
<path d="M348.4 430.3V524.8" stroke="#000" stroke-width="1.2"/>
<path d="M348.4 466.2V492.3" stroke="#000" stroke-width="3.3"/>
<circle cx="348.4" cy="478.4" r="1.9" fill="#fff"/>
<path d="M393.2 452.6C394 453.2 396.6 454.7 397.8 456.4C399 458.1 399.7 460.7 400.1 462.8C400.6 464.9 400.6 466.9 400.5 469.2C400.4 471.5 400.1 474.3 399.8 476.9C399.5 479.5 398.8 482 398.5 484.6C398.2 487.2 398 490.2 397.8 492.3C397.6 494.4 397.6 496.1 397.5 497.4C397.4 498.7 397.1 499.7 397 500.2L374 500.2C373.9 499.7 373.6 498.7 373.5 497.4C373.4 496.1 373.4 494.4 373.2 492.3C373 490.2 372.8 487.2 372.5 484.6C372.2 482 371.5 479.5 371.2 476.9C370.9 474.3 370.6 471.5 370.5 469.2C370.4 466.9 370.4 464.9 370.9 462.8C371.3 460.7 372 458.1 373.2 456.4C374.4 454.7 377 453.2 377.8 452.6Z" fill="#dcdcdc" stroke="#000" stroke-width="1.2" stroke-linejoin="round"/>
<path d="M385.5 452.6V500.2" stroke="#000" stroke-width="1.2"/>
<path d="M385.5 466.2V493" stroke="#000" stroke-width="3.3"/>
<circle cx="385.5" cy="477.2" r="1.9" fill="#fff"/>
<path d="M427.2 449C427.3 450.2 427.7 453.9 428 456.4C428.3 458.9 428.4 461.5 429 464.1C429.6 466.7 430.5 469.2 431.6 471.8C432.7 474.4 434.6 477.1 435.6 479.5C436.6 481.9 437.2 483.8 437.4 485.9C437.6 488 437.2 490.4 436.6 492.3C436 494.2 434.4 496.1 433.6 497.4C432.8 498.7 431.9 499.7 431.6 500.2L413.6 500.2C413.3 499.7 412.4 498.7 411.6 497.4C410.8 496.1 409.2 494.2 408.6 492.3C408 490.4 407.6 488 407.8 485.9C408 483.8 408.6 481.9 409.6 479.5C410.6 477.1 412.5 474.4 413.6 471.8C414.7 469.2 415.6 466.7 416.2 464.1C416.8 461.5 416.9 458.9 417.2 456.4C417.5 453.9 417.9 450.2 418 449Z" fill="#dcdcdc" stroke="#000" stroke-width="1.2" stroke-linejoin="round"/>
<path d="M422.6 449V500.2" stroke="#000" stroke-width="1.2"/>
<path d="M422.6 469.2V487.7" stroke="#000" stroke-width="3.3"/>
<circle cx="422.6" cy="487.4" r="1.9" fill="#fff"/>
<rect x="248.5" y="399.5" width="199.8" height="132.4" fill="none" stroke="#000" stroke-width="1.5"/>
<path d="M244.4 531.6H248.5" stroke="#000" stroke-width="1.3"/>
<text transform="translate(240.9 531.6) rotate(-90)" text-anchor="middle" font-family='"Liberation Sans", Arial, sans-serif' font-size="6.5">1</text>
<path d="M244.4 514.5H248.5" stroke="#000" stroke-width="1.3"/>
<text transform="translate(240.9 514.5) rotate(-90)" text-anchor="middle" font-family='"Liberation Sans", Arial, sans-serif' font-size="6.5">2</text>
<path d="M244.4 497.4H248.5" stroke="#000" stroke-width="1.3"/>
<text transform="translate(240.9 497.4) rotate(-90)" text-anchor="middle" font-family='"Liberation Sans", Arial, sans-serif' font-size="6.5">3</text>
<path d="M244.4 480.4H248.5" stroke="#000" stroke-width="1.3"/>
<text transform="translate(240.9 480.4) rotate(-90)" text-anchor="middle" font-family='"Liberation Sans", Arial, sans-serif' font-size="6.5">4</text>
<path d="M244.4 463.3H248.5" stroke="#000" stroke-width="1.3"/>
<text transform="translate(240.9 463.3) rotate(-90)" text-anchor="middle" font-family='"Liberation Sans", Arial, sans-serif' font-size="6.5">5</text>
<path d="M244.4 446.2H248.5" stroke="#000" stroke-width="1.3"/>
<text transform="translate(240.9 446.2) rotate(-90)" text-anchor="middle" font-family='"Liberation Sans", Arial, sans-serif' font-size="6.5">6</text>
<path d="M244.4 429.1H248.5" stroke="#000" stroke-width="1.3"/>
<text transform="translate(240.9 429.1) rotate(-90)" text-anchor="middle" font-family='"Liberation Sans", Arial, sans-serif' font-size="6.5">7</text>
<path d="M244.4 412H248.5" stroke="#000" stroke-width="1.3"/>
<text transform="translate(240.9 412) rotate(-90)" text-anchor="middle" font-family='"Liberation Sans", Arial, sans-serif' font-size="6.5">8</text>
<path d="M274.3 531.9V535.5" stroke="#000" stroke-width="1.2"/>
<text x="274.3" y="544.6" text-anchor="middle" font-family='"Liberation Sans", Arial, sans-serif' font-size="5.8">Stage I</text>
<path d="M311.6 531.9V535.5" stroke="#000" stroke-width="1.2"/>
<text x="311.6" y="544.6" text-anchor="middle" font-family='"Liberation Sans", Arial, sans-serif' font-size="5.8">Stage II</text>
<path d="M348.4 531.9V535.5" stroke="#000" stroke-width="1.2"/>
<text x="348.4" y="544.6" text-anchor="middle" font-family='"Liberation Sans", Arial, sans-serif' font-size="5.8">Stage III</text>
<path d="M385.5 531.9V535.5" stroke="#000" stroke-width="1.2"/>
<text x="385.5" y="544.6" text-anchor="middle" font-family='"Liberation Sans", Arial, sans-serif' font-size="5.8">Stage IV</text>
<path d="M422.6 531.9V535.5" stroke="#000" stroke-width="1.2"/>
<text x="422.6" y="544.6" text-anchor="middle" font-family='"Liberation Sans", Arial, sans-serif' font-size="5.8">Stage X</text>
<text x="265.9" y="414.4" font-family='"Liberation Serif", "Times New Roman", serif' font-size="8.6" font-weight="bold">SPAG5</text>
<text x="438.2" y="407.6" text-anchor="end" font-family='"Liberation Sans", Arial, sans-serif' font-size="6.2">F value = 5.18</text>
<text x="438.2" y="414.9" text-anchor="end" font-family='"Liberation Sans", Arial, sans-serif' font-size="6.2">Pr(&gt;F) = 0.000392</text>
<path d="M509.8 420.1C509.9 421.5 509.6 425.7 510.3 428.3C511 430.9 512.6 433.4 513.7 436C514.8 438.6 515.7 441.1 516.7 443.6C517.7 446.2 518.9 448.7 519.8 451.3C520.6 453.9 521.3 456.4 521.8 459C522.3 461.6 522.5 463.7 522.8 466.7C523.1 469.7 523.3 474.1 523.4 476.9C523.5 479.7 523.7 481.2 523.6 483.3C523.5 485.4 523.3 487.4 522.6 489.7C521.9 492 520.5 494.8 519.3 497.4C518.1 500 516.4 502.6 515.2 505.1C514 507.7 513 510.2 512.1 512.7C511.2 515.2 510.6 517.9 510.1 520.4C509.6 522.9 509.4 526.7 509.3 528L508.3 528C508.2 526.7 508 522.9 507.5 520.4C507 517.9 506.4 515.2 505.5 512.7C504.6 510.2 503.6 507.7 502.4 505.1C501.2 502.6 499.5 500 498.3 497.4C497.1 494.8 495.7 492 495 489.7C494.3 487.4 494.1 485.4 494 483.3C493.9 481.2 494.1 479.7 494.2 476.9C494.3 474.1 494.5 469.7 494.8 466.7C495.1 463.7 495.3 461.6 495.8 459C496.3 456.4 496.9 453.9 497.8 451.3C498.7 448.7 499.9 446.2 500.9 443.6C501.9 441.1 502.8 438.6 503.9 436C505 433.4 506.7 430.9 507.3 428.3C507.9 425.7 507.7 421.5 507.8 420.1Z" fill="#dcdcdc" stroke="#000" stroke-width="1.2" stroke-linejoin="round"/>
<path d="M508.8 420.1V528" stroke="#000" stroke-width="1.2"/>
<path d="M508.8 459.5V490.2" stroke="#000" stroke-width="3.3"/>
<circle cx="508.8" cy="474.9" r="1.9" fill="#fff"/>
<path d="M547.9 415.5C548.3 416.8 549.5 420.6 550.5 423.2C551.5 425.8 552.7 428.2 553.8 430.8C554.9 433.4 556 435.9 556.9 438.5C557.8 441.1 558.3 443.2 558.9 446.2C559.5 449.2 560.2 453.4 560.5 456.4C560.8 459.4 560.8 461.5 560.7 464.1C560.6 466.7 560.6 468.8 560.2 471.8C559.8 474.8 559 478.6 558.2 482C557.3 485.4 556.2 488.9 555.1 492.3C554 495.7 552.8 499.1 551.8 502.5C550.8 505.9 549.6 509.6 549 512.7C548.4 515.8 548.3 519.8 548.2 521.2L543.6 521.2C543.5 519.8 543.4 515.8 542.8 512.7C542.2 509.6 541 505.9 540 502.5C539 499.1 537.8 495.7 536.7 492.3C535.6 488.9 534.5 485.4 533.6 482C532.8 478.6 532 474.8 531.6 471.8C531.2 468.8 531.2 466.7 531.1 464.1C531 461.5 531 459.4 531.3 456.4C531.6 453.4 532.3 449.2 532.9 446.2C533.5 443.2 534 441.1 534.9 438.5C535.8 435.9 536.9 433.4 538 430.8C539.1 428.2 540.3 425.8 541.3 423.2C542.3 420.6 543.5 416.8 543.9 415.5Z" fill="#dcdcdc" stroke="#000" stroke-width="1.2" stroke-linejoin="round"/>
<path d="M545.9 415.5V528.9" stroke="#000" stroke-width="1.2"/>
<path d="M545.9 451.8V482" stroke="#000" stroke-width="3.3"/>
<circle cx="545.9" cy="466.4" r="1.9" fill="#fff"/>
<path d="M584.4 420.1C584.8 421.5 585.7 425.7 586.7 428.3C587.6 430.9 589 433.4 590.1 436C591.2 438.6 592.2 441.1 593.1 443.6C594 446.2 594.6 448.7 595.2 451.3C595.8 453.9 596.1 456.2 596.5 459C596.9 461.8 597.6 465.3 597.7 467.9C597.8 470.4 597.4 471.9 596.9 474.3C596.4 476.7 595.4 479 594.4 482C593.4 485 592.2 488.9 591.1 492.3C590 495.7 588.9 499.1 588 502.5C587.1 505.9 586.3 509.8 585.9 512.7C585.5 515.6 585.5 518.7 585.4 519.9L580.4 519.9C580.3 518.7 580.3 515.6 579.9 512.7C579.5 509.8 578.7 505.9 577.8 502.5C576.9 499.1 575.8 495.7 574.7 492.3C573.6 488.9 572.4 485 571.4 482C570.4 479 569.4 476.7 568.9 474.3C568.4 471.9 568 470.4 568.1 467.9C568.2 465.3 568.9 461.8 569.3 459C569.7 456.2 570 453.9 570.6 451.3C571.2 448.7 571.8 446.2 572.7 443.6C573.5 441.1 574.6 438.6 575.7 436C576.8 433.4 578.1 430.9 579.1 428.3C580.1 425.7 581 421.5 581.4 420.1Z" fill="#dcdcdc" stroke="#000" stroke-width="1.2" stroke-linejoin="round"/>
<path d="M582.9 420.1V519.9" stroke="#000" stroke-width="1.2"/>
<path d="M582.9 453.4V483.3" stroke="#000" stroke-width="3.3"/>
<circle cx="582.9" cy="470" r="1.9" fill="#fff"/>
<path d="M626.1 437.2C627 438.3 629.9 441.2 631.3 443.6C632.7 446 633.8 449 634.5 451.3C635.2 453.6 635.4 455.6 635.3 457.7C635.2 459.8 634.6 461.8 633.8 464.1C633 466.5 631.6 468.8 630.5 471.8C629.4 474.8 628.2 478.6 627.4 482C626.5 485.4 625.9 488.9 625.4 492.3C624.9 495.7 624.5 499.1 624.1 502.5C623.8 505.9 623.4 511 623.3 512.7L617.7 512.7C617.6 511 617.2 505.9 616.9 502.5C616.5 499.1 616.1 495.7 615.6 492.3C615.1 488.9 614.5 485.4 613.6 482C612.8 478.6 611.6 474.8 610.5 471.8C609.4 468.8 608 466.5 607.2 464.1C606.4 461.8 605.8 459.8 605.7 457.7C605.6 455.6 605.8 453.6 606.5 451.3C607.2 449 608.3 446 609.7 443.6C611.1 441.2 614 438.3 614.9 437.2Z" fill="#dcdcdc" stroke="#000" stroke-width="1.2" stroke-linejoin="round"/>
<path d="M620.5 437.2V512.7" stroke="#000" stroke-width="1.2"/>
<path d="M620.5 455.1V477.7" stroke="#000" stroke-width="3.3"/>
<circle cx="620.5" cy="462.3" r="1.9" fill="#fff"/>
<path d="M662.8 441.6C663 442.8 663.3 446.2 663.8 448.7C664.3 451.2 664.9 453.8 665.9 456.4C666.9 459 668.6 461.5 669.7 464.1C670.8 466.7 671.8 469.7 672.3 471.8C672.8 473.9 672.6 475 672.5 476.9C672.4 478.8 672.1 481.2 671.5 483.3C670.9 485.4 669.7 488 669 489.7C668.3 491.4 667.9 492.4 667.2 493.5C666.5 494.6 665.3 496.1 664.9 496.6L650.5 496.6C650.1 496.1 648.9 494.6 648.2 493.5C647.5 492.4 647.1 491.4 646.4 489.7C645.7 488 644.5 485.4 643.9 483.3C643.3 481.2 643 478.8 642.9 476.9C642.8 475 642.6 473.9 643.1 471.8C643.6 469.7 644.6 466.7 645.7 464.1C646.8 461.5 648.5 459 649.5 456.4C650.5 453.8 651.1 451.2 651.6 448.7C652.1 446.2 652.4 442.8 652.6 441.6Z" fill="#dcdcdc" stroke="#000" stroke-width="1.2" stroke-linejoin="round"/>
<path d="M657.7 444.1V496.6" stroke="#000" stroke-width="1.2"/>
<path d="M657.7 467.2V483.3" stroke="#000" stroke-width="3.3"/>
<circle cx="657.7" cy="476.4" r="1.9" fill="#fff"/>
<path d="M495.2 528.9H522.4M532.5 528.9H559.5" stroke="#000" stroke-width="3" stroke-linecap="round"/>
<rect x="482.5" y="398.7" width="201.3" height="133.2" fill="none" stroke="#000" stroke-width="1.5"/>
<path d="M478.4 528.9H482.5" stroke="#000" stroke-width="1.3"/>
<text transform="translate(474.9 528.9) rotate(-90)" text-anchor="middle" font-family='"Liberation Sans", Arial, sans-serif' font-size="6.5">0</text>
<path d="M478.4 508.6H482.5" stroke="#000" stroke-width="1.3"/>
<text transform="translate(474.9 508.6) rotate(-90)" text-anchor="middle" font-family='"Liberation Sans", Arial, sans-serif' font-size="6.5">1</text>
<path d="M478.4 488.4H482.5" stroke="#000" stroke-width="1.3"/>
<text transform="translate(474.9 488.4) rotate(-90)" text-anchor="middle" font-family='"Liberation Sans", Arial, sans-serif' font-size="6.5">2</text>
<path d="M478.4 468.1H482.5" stroke="#000" stroke-width="1.3"/>
<text transform="translate(474.9 468.1) rotate(-90)" text-anchor="middle" font-family='"Liberation Sans", Arial, sans-serif' font-size="6.5">3</text>
<path d="M478.4 447.8H482.5" stroke="#000" stroke-width="1.3"/>
<text transform="translate(474.9 447.8) rotate(-90)" text-anchor="middle" font-family='"Liberation Sans", Arial, sans-serif' font-size="6.5">4</text>
<path d="M478.4 427.5H482.5" stroke="#000" stroke-width="1.3"/>
<text transform="translate(474.9 427.5) rotate(-90)" text-anchor="middle" font-family='"Liberation Sans", Arial, sans-serif' font-size="6.5">5</text>
<path d="M478.4 407.3H482.5" stroke="#000" stroke-width="1.3"/>
<text transform="translate(474.9 407.3) rotate(-90)" text-anchor="middle" font-family='"Liberation Sans", Arial, sans-serif' font-size="6.5">6</text>
<path d="M508.8 531.9V535.5" stroke="#000" stroke-width="1.2"/>
<text x="508.8" y="544.6" text-anchor="middle" font-family='"Liberation Sans", Arial, sans-serif' font-size="5.8">Stage I</text>
<path d="M545.9 531.9V535.5" stroke="#000" stroke-width="1.2"/>
<text x="545.9" y="544.6" text-anchor="middle" font-family='"Liberation Sans", Arial, sans-serif' font-size="5.8">Stage II</text>
<path d="M582.9 531.9V535.5" stroke="#000" stroke-width="1.2"/>
<text x="582.9" y="544.6" text-anchor="middle" font-family='"Liberation Sans", Arial, sans-serif' font-size="5.8">Stage III</text>
<path d="M620.5 531.9V535.5" stroke="#000" stroke-width="1.2"/>
<text x="620.5" y="544.6" text-anchor="middle" font-family='"Liberation Sans", Arial, sans-serif' font-size="5.8">Stage IV</text>
<path d="M657.7 531.9V535.5" stroke="#000" stroke-width="1.2"/>
<text x="657.7" y="544.6" text-anchor="middle" font-family='"Liberation Sans", Arial, sans-serif' font-size="5.8">Stage X</text>
<text x="503.4" y="411.9" font-family='"Liberation Serif", "Times New Roman", serif' font-size="8.6" font-weight="bold">KIF20A</text>
<text x="672.8" y="406.3" text-anchor="end" font-family='"Liberation Sans", Arial, sans-serif' font-size="6.2">F value = 4.67</text>
<text x="672.8" y="413.6" text-anchor="end" font-family='"Liberation Sans", Arial, sans-serif' font-size="6.2">Pr(&gt;F) = 0.00097</text>
</svg></body></html>
